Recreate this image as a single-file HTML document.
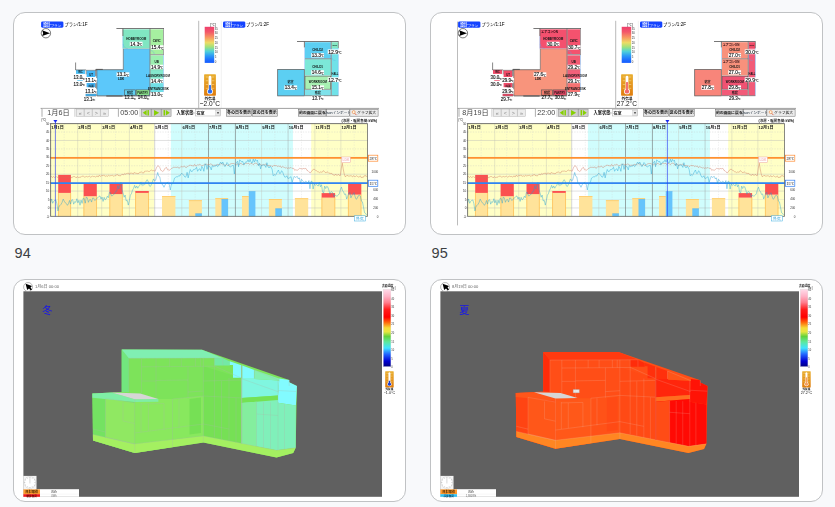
<!DOCTYPE html>
<html lang="ja">
<head>
<meta charset="utf-8">
<title>温熱シミュレーション 94-95</title>
<style>
html,body{margin:0;padding:0}
body{width:835px;height:507px;overflow:hidden;position:relative;background:#f8f9fb;font-family:"Liberation Sans","Noto Sans CJK JP",sans-serif;color:#3c4043}
.card{position:absolute;width:393px;height:223px;box-sizing:border-box;border:1px solid #c0c2c4;border-radius:12px;background:#fff;overflow:hidden}
.card svg{position:absolute;left:-1px;top:-1px;width:393px;height:223px;display:block;font-family:"Liberation Sans","Noto Sans CJK JP",sans-serif;will-change:transform}
.cap{position:absolute;margin:0;font-size:14.5px;line-height:16px;font-weight:400;color:#3c4043;letter-spacing:0}
</style>
</head>
<body>
<div class="card" style="left:13px;top:12px"><svg viewBox="13 12 393 223" width="393" height="223" role="img" aria-label="冬の室温シミュレーション"><rect x="41.1" y="21.4" width="22.3" height="6.3" fill="#1443ff" rx="1.4"/><text transform="translate(43.3 26.4) scale(0.78 1)" font-size="4.7" fill="#fff" font-weight="bold">設計</text><text transform="translate(50.4 26.6) scale(1.22 1)" font-size="3" fill="#fff">プラン</text><text x="64.6" y="26.3" font-size="4.2" fill="#000">プラン<tspan font-size="4.6">/1:1F</tspan></text><circle cx="45.9" cy="33.2" r="4.7" fill="#fff" stroke="#111" stroke-width="0.55"/><polygon points="42.14,30.29 50.04,33.2 42.14,36.11 43.17,33.2" fill="#000"/><rect x="122.8" y="29.3" width="27" height="19.3" fill="#80e6c2"/><rect x="150.3" y="29.3" width="12.9" height="24.9" fill="#a6f0a0"/><polygon points="123.4,49 149.8,49 149.8,95.8 96.8,95.8 96.8,69.7 123.4,69.7" fill="#5cc8fa"/><rect x="150.3" y="55.4" width="12.9" height="14.3" fill="#9cf0b0"/><rect x="150.3" y="69.7" width="12.9" height="13.4" fill="#84e8cc"/><rect x="150.3" y="83.1" width="12.9" height="8.9" fill="#72e0e6"/><rect x="124.4" y="89.9" width="11.1" height="5.3" fill="#62d2f2" stroke="#555" stroke-width="0.6"/><rect x="136.2" y="89.9" width="13" height="5.3" fill="#90ee92" stroke="#555" stroke-width="0.6"/><rect x="76" y="69.9" width="9" height="4" fill="#4fc0f4"/><rect x="86.6" y="70.4" width="8.7" height="6.6" fill="#42b8f8"/><rect x="86.6" y="83" width="8.7" height="4.2" fill="#42b4f6"/><rect x="77.2" y="80.3" width="5.6" height="0.7" fill="#4fc0f4"/><rect x="85.6" y="93.9" width="10.4" height="2.1" fill="#42b8f8"/><line x1="85.6" y1="93.9" x2="96" y2="93.9" stroke="#555" stroke-width="0.45"/><line x1="85.6" y1="96.1" x2="96" y2="96.1" stroke="#555" stroke-width="0.45"/><line x1="116.4" y1="28.5" x2="164" y2="28.5" stroke="#555" stroke-width="0.8"/><line x1="122.9" y1="28.5" x2="122.9" y2="36" stroke="#555" stroke-width="0.8"/><line x1="122.9" y1="36" x2="122.9" y2="48.6" stroke="#5aa8f0" stroke-width="0.5"/><line x1="150" y1="28.5" x2="150" y2="95.8" stroke="#555" stroke-width="0.7"/><line x1="163.5" y1="28.5" x2="163.5" y2="55" stroke="#555" stroke-width="0.5"/><line x1="163.5" y1="55" x2="163.5" y2="92" stroke="#6ab4f4" stroke-width="0.5"/><line x1="122.9" y1="48.8" x2="150" y2="48.8" stroke="#889" stroke-width="0.4"/><line x1="150.3" y1="54.7" x2="163.4" y2="54.7" stroke="#555" stroke-width="0.6"/><line x1="150.3" y1="69.7" x2="163.4" y2="69.7" stroke="#7a8" stroke-width="0.3"/><line x1="123.3" y1="49" x2="123.3" y2="69.7" stroke="#555" stroke-width="0.6"/><line x1="96.8" y1="69.7" x2="123.3" y2="69.7" stroke="#555" stroke-width="0.7"/><line x1="96.8" y1="69.7" x2="96.8" y2="96" stroke="#555" stroke-width="0.7"/><line x1="96.8" y1="95.9" x2="150" y2="95.9" stroke="#555" stroke-width="0.8"/><line x1="75.6" y1="62.5" x2="75.6" y2="70" stroke="#555" stroke-width="0.7"/><line x1="75.6" y1="69.9" x2="86" y2="69.9" stroke="#555" stroke-width="0.6"/><line x1="86.4" y1="70.3" x2="96.8" y2="70.3" stroke="#555" stroke-width="0.5"/><line x1="95.8" y1="69.4" x2="95.8" y2="76.2" stroke="#555" stroke-width="0.8"/><line x1="95.8" y1="83.3" x2="95.8" y2="88" stroke="#555" stroke-width="0.8"/><line x1="86.2" y1="69.9" x2="86.2" y2="74.4" stroke="#555" stroke-width="0.6"/><line x1="95.8" y1="69.4" x2="102.8" y2="69.4" stroke="#555" stroke-width="1"/><line x1="106.3" y1="96" x2="122.6" y2="96" stroke="#555" stroke-width="1.1"/><path d="M123.2 44 A4.6 4.6 0 0 0 127.8 48.6" fill="none" stroke="#5aa8f0" stroke-width="0.35"/><path d="M150.6 50.5 A3.6 3.6 0 0 1 154.2 54.4" fill="none" stroke="#5aa8f0" stroke-width="0.35"/><text x="136.3" y="39.7" font-size="3" fill="#101414" text-anchor="middle" font-weight="bold">HOBBYROOM</text><rect x="129.77" y="41.74" width="12.76" height="4.32" fill="#fff"/><text x="130.17" y="45.59" font-size="4.7" fill="#111" stroke="#111" stroke-width="0.12">14.3<tspan font-size="2.91" dy="0.47">℃</tspan></text><text x="156.7" y="42" font-size="3" fill="#101414" text-anchor="middle" font-weight="bold">CWIC</text><rect x="150.87" y="45.24" width="12.76" height="4.32" fill="#fff"/><text x="151.27" y="49.09" font-size="4.7" fill="#111" stroke="#111" stroke-width="0.12">15.4<tspan font-size="2.91" dy="0.47">℃</tspan></text><rect x="116.57" y="72.34" width="12.76" height="4.32" fill="#fff"/><text x="116.97" y="76.19" font-size="4.7" fill="#111" stroke="#111" stroke-width="0.12">13.1<tspan font-size="2.91" dy="0.47">℃</tspan></text><text x="121.2" y="80.3" font-size="3" fill="#101414" text-anchor="middle" font-weight="bold">LDK</text><text x="156.7" y="62.8" font-size="3" fill="#101414" text-anchor="middle" font-weight="bold">UB</text><rect x="150.57" y="64.74" width="12.76" height="4.32" fill="#fff"/><text x="150.97" y="68.59" font-size="4.7" fill="#111" stroke="#111" stroke-width="0.12">14.9<tspan font-size="2.91" dy="0.47">℃</tspan></text><text x="158" y="77" font-size="3" fill="#101414" text-anchor="middle" font-weight="bold">LAUNDRYROOM</text><rect x="150.57" y="78.74" width="12.76" height="4.32" fill="#fff"/><text x="150.97" y="82.59" font-size="4.7" fill="#111" stroke="#111" stroke-width="0.12">14.4<tspan font-size="2.91" dy="0.47">℃</tspan></text><text x="158.5" y="89.8" font-size="2.9" fill="#101414" text-anchor="middle" font-weight="bold">ENTRANCE/SK</text><rect x="150.57" y="92.64" width="12.76" height="4.32" fill="#fff"/><text x="150.97" y="96.49" font-size="4.7" fill="#111" stroke="#111" stroke-width="0.12">13.0<tspan font-size="2.91" dy="0.47">℃</tspan></text><text x="130" y="93.8" font-size="3" fill="#101414" text-anchor="middle" font-weight="bold">階段</text><text x="142.7" y="93.7" font-size="2.7" fill="#101414" text-anchor="middle" font-weight="bold">PANTRY</text><text x="124.43" y="99.22" font-size="4.5" fill="#111" stroke="#111" stroke-width="0.12">13.1<tspan font-size="2.79" dy="0.45">℃</tspan></text><text x="137.63" y="99.22" font-size="4.5" fill="#111" stroke="#111" stroke-width="0.12">14.0<tspan font-size="2.79" dy="0.45">℃</tspan></text><text x="80.5" y="73.2" font-size="2.8" fill="#101414" text-anchor="middle" font-weight="bold">WC</text><text x="73.53" y="79.22" font-size="4.5" fill="#111" stroke="#111" stroke-width="0.12">13.0<tspan font-size="2.79" dy="0.45">℃</tspan></text><text x="73.53" y="85.92" font-size="4.5" fill="#111" stroke="#111" stroke-width="0.12">13.0<tspan font-size="2.79" dy="0.45">℃</tspan></text><text x="91" y="76" font-size="2.8" fill="#101414" text-anchor="middle" font-weight="bold">UT</text><rect x="84.83" y="78.13" width="12.25" height="4.14" fill="#fff"/><text x="85.23" y="81.82" font-size="4.5" fill="#111" stroke="#111" stroke-width="0.12">13.1<tspan font-size="2.79" dy="0.45">℃</tspan></text><text x="91" y="86.5" font-size="2.8" fill="#101414" text-anchor="middle" font-weight="bold">洗面</text><rect x="84.83" y="89.33" width="12.25" height="4.14" fill="#fff"/><text x="85.23" y="93.02" font-size="4.5" fill="#111" stroke="#111" stroke-width="0.12">13.1<tspan font-size="2.79" dy="0.45">℃</tspan></text><text x="83.83" y="101.02" font-size="4.5" fill="#111" stroke="#111" stroke-width="0.12">13.1<tspan font-size="2.79" dy="0.45">℃</tspan></text><line x1="198.7" y1="20.8" x2="198.7" y2="108.2" stroke="#8c8c8c" stroke-width="0.6"/><line x1="221.3" y1="20.8" x2="221.3" y2="108.2" stroke="#dcdcdc" stroke-width="0.4"/><text x="213" y="25.6" font-size="3.6" fill="#222" text-anchor="middle">[℃]</text><defs><linearGradient id="gA" x1="0" y1="0" x2="0" y2="1"><stop offset="0" stop-color="#ee3f6c"/><stop offset="0.14" stop-color="#f3566a"/><stop offset="0.3" stop-color="#f79a62"/><stop offset="0.44" stop-color="#eddc64"/><stop offset="0.56" stop-color="#9fe27c"/><stop offset="0.68" stop-color="#4fd2d8"/><stop offset="0.8" stop-color="#2d9cf6"/><stop offset="0.92" stop-color="#1d6cff"/><stop offset="1" stop-color="#155cff"/></linearGradient></defs><rect x="204.7" y="26.8" width="9.5" height="36.1" fill="url(#gA)"/><text x="214.7" y="29.6" font-size="2.8" fill="#333">35</text><text x="214.7" y="34.35" font-size="2.8" fill="#333">30</text><text x="214.7" y="39.1" font-size="2.8" fill="#333">25</text><text x="214.7" y="43.85" font-size="2.8" fill="#333">20</text><text x="214.7" y="48.6" font-size="2.8" fill="#333">15</text><text x="214.7" y="53.35" font-size="2.8" fill="#333">10</text><text x="214.7" y="58.1" font-size="2.8" fill="#333">5</text><text x="214.7" y="62.85" font-size="2.8" fill="#333">0</text><defs><linearGradient id="gAt" x1="0" y1="0" x2="0" y2="1"><stop offset="0" stop-color="#e9ae2e"/><stop offset="1" stop-color="#df7d0e"/></linearGradient></defs><rect x="204.1" y="74.2" width="11.8" height="21.5" fill="url(#gAt)" rx="0.71"/><line x1="205.75" y1="77" x2="208.11" y2="77" stroke="#f8dc98" stroke-width="0.59"/><line x1="211.89" y1="77" x2="214.25" y2="77" stroke="#f8dc98" stroke-width="0.59"/><line x1="205.75" y1="80.76" x2="208.11" y2="80.76" stroke="#f8dc98" stroke-width="0.59"/><line x1="211.89" y1="80.76" x2="214.25" y2="80.76" stroke="#f8dc98" stroke-width="0.59"/><line x1="205.75" y1="84.52" x2="208.11" y2="84.52" stroke="#f8dc98" stroke-width="0.59"/><line x1="211.89" y1="84.52" x2="214.25" y2="84.52" stroke="#f8dc98" stroke-width="0.59"/><line x1="205.75" y1="88.28" x2="208.11" y2="88.28" stroke="#f8dc98" stroke-width="0.59"/><line x1="211.89" y1="88.28" x2="214.25" y2="88.28" stroke="#f8dc98" stroke-width="0.59"/><rect x="208.58" y="75.7" width="2.83" height="15.7" rx="1.42" fill="#fff"/><circle cx="210" cy="91.4" r="2.95" fill="#fff"/><circle cx="210" cy="91.4" r="2.18" fill="#2c6cf0"/><rect x="209.07" y="85.08" width="1.87" height="6.32" fill="#2c6cf0"/><text x="210" y="99.5" font-size="3.7" fill="#111" text-anchor="middle" font-weight="bold">外気温</text><text transform="translate(209.9 106.4) scale(0.84 1)" font-size="7.8" fill="#111" text-anchor="middle">−2.0°C</text><rect x="223" y="21.4" width="22.3" height="6.3" fill="#1443ff" rx="1.4"/><text transform="translate(225.2 26.4) scale(0.78 1)" font-size="4.7" fill="#fff" font-weight="bold">設計</text><text transform="translate(232.3 26.6) scale(1.22 1)" font-size="3" fill="#fff">プラン</text><text x="246" y="26.3" font-size="4.2" fill="#000">プラン<tspan font-size="4.6">/1:2F</tspan></text><rect x="305" y="42.2" width="25.8" height="16.3" fill="#5ccff2"/><rect x="331.7" y="42.2" width="6.5" height="6" fill="#84e8c4"/><rect x="331.7" y="48.2" width="6.5" height="47.4" fill="#70e2e8"/><rect x="305" y="59.2" width="25.8" height="16.3" fill="#7ce8d8"/><rect x="305" y="76.1" width="25.8" height="13.1" fill="#a8f0b2" stroke="#555" stroke-width="0.6"/><rect x="305" y="89.9" width="25.8" height="5.7" fill="#7ee2ea"/><rect x="277.7" y="69.5" width="26.6" height="26.4" fill="#5ccff2" stroke="#555" stroke-width="0.7"/><line x1="297" y1="41.5" x2="338.5" y2="41.5" stroke="#555" stroke-width="0.8"/><line x1="304.4" y1="41.5" x2="304.4" y2="47.5" stroke="#555" stroke-width="0.8"/><line x1="304.5" y1="47.5" x2="304.5" y2="69.5" stroke="#5aa8f0" stroke-width="0.4"/><line x1="338.4" y1="41.5" x2="338.4" y2="48" stroke="#555" stroke-width="0.6"/><line x1="338.4" y1="48" x2="338.4" y2="95.6" stroke="#6ab4f4" stroke-width="0.5"/><line x1="331.2" y1="41.5" x2="331.2" y2="95.6" stroke="#555" stroke-width="0.7"/><line x1="305" y1="58.8" x2="331.2" y2="58.8" stroke="#555" stroke-width="0.6"/><line x1="305" y1="95.7" x2="338.4" y2="95.7" stroke="#555" stroke-width="0.6"/><path d="M331.4 55.0 A4.4 4.4 0 0 0 335.6 60.6" fill="none" stroke="#5aa8f0" stroke-width="0.35"/><text x="317.6" y="51.3" font-size="3" fill="#101414" text-anchor="middle" font-weight="bold">CHILD2</text><rect x="311.27" y="53.14" width="12.76" height="4.32" fill="#fff"/><text x="311.67" y="56.99" font-size="4.7" fill="#111" stroke="#111" stroke-width="0.12">13.3<tspan font-size="2.91" dy="0.47">℃</tspan></text><text x="334.9" y="46.3" font-size="2.4" fill="#101414" text-anchor="middle" font-weight="bold">WIC</text><rect x="327.73" y="49.41" width="14.04" height="4.78" fill="#fff"/><text x="328.13" y="53.67" font-size="5.2" fill="#111" stroke="#111" stroke-width="0.12">12.9<tspan font-size="3.22" dy="0.52">℃</tspan></text><text x="317.6" y="68.4" font-size="3" fill="#101414" text-anchor="middle" font-weight="bold">CHILD1</text><rect x="311.27" y="70.24" width="12.76" height="4.32" fill="#fff"/><text x="311.67" y="74.09" font-size="4.7" fill="#111" stroke="#111" stroke-width="0.12">14.6<tspan font-size="2.91" dy="0.47">℃</tspan></text><text x="335" y="74.9" font-size="2.6" fill="#101414" text-anchor="middle" font-weight="bold">HALL</text><rect x="327.73" y="77.31" width="14.04" height="4.78" fill="#fff"/><text x="328.13" y="81.57" font-size="5.2" fill="#111" stroke="#111" stroke-width="0.12">12.7<tspan font-size="3.22" dy="0.52">℃</tspan></text><text x="317.8" y="83.1" font-size="2.9" fill="#101414" text-anchor="middle" font-weight="bold">WORKROOM</text><rect x="311.27" y="85.44" width="12.76" height="4.32" fill="#fff"/><text x="311.67" y="89.29" font-size="4.7" fill="#111" stroke="#111" stroke-width="0.12">15.1<tspan font-size="2.91" dy="0.47">℃</tspan></text><text x="317.8" y="93.6" font-size="3" fill="#101414" text-anchor="middle" font-weight="bold">階段</text><rect x="311.53" y="95.83" width="12.25" height="4.14" fill="#fff"/><text x="311.93" y="99.52" font-size="4.5" fill="#111" stroke="#111" stroke-width="0.12">13.7<tspan font-size="2.79" dy="0.45">℃</tspan></text><text x="290.6" y="83.1" font-size="3" fill="#101414" text-anchor="middle" font-weight="bold">寝室</text><rect x="284.37" y="85.44" width="12.76" height="4.32" fill="#fff"/><text x="284.77" y="89.29" font-size="4.7" fill="#111" stroke="#111" stroke-width="0.12">13.4<tspan font-size="2.91" dy="0.47">℃</tspan></text><line x1="40.6" y1="108.4" x2="379" y2="108.4" stroke="#777" stroke-width="0.7"/><rect x="42" y="108.8" width="32.9" height="8" fill="#fff"/><line x1="42" y1="108.8" x2="42" y2="116.8" stroke="#777" stroke-width="0.6"/><line x1="74.9" y1="108.8" x2="74.9" y2="116.8" stroke="#999" stroke-width="0.5"/><text x="58.4" y="115.4" font-size="7.2" fill="#444" text-anchor="middle">1月6日</text><rect x="76.3" y="109.1" width="7.7" height="7.2" fill="#ececec" stroke="#b4b4b4" stroke-width="0.5"/><text x="80.15" y="114.5" font-size="5.4" fill="#8a8a8a" text-anchor="middle">«</text><rect x="84.4" y="109.1" width="7.7" height="7.2" fill="#ececec" stroke="#b4b4b4" stroke-width="0.5"/><text x="88.25" y="114.5" font-size="5.4" fill="#8a8a8a" text-anchor="middle"><</text><rect x="92.5" y="109.1" width="7.7" height="7.2" fill="#ececec" stroke="#b4b4b4" stroke-width="0.5"/><text x="96.35" y="114.5" font-size="5.4" fill="#8a8a8a" text-anchor="middle">></text><rect x="100.6" y="109.1" width="7.7" height="7.2" fill="#ececec" stroke="#b4b4b4" stroke-width="0.5"/><text x="104.45" y="114.5" font-size="5.4" fill="#8a8a8a" text-anchor="middle">»</text><rect x="118.4" y="108.8" width="21.6" height="8" fill="#fff"/><line x1="118.4" y1="108.8" x2="118.4" y2="116.8" stroke="#777" stroke-width="0.6"/><line x1="140" y1="108.8" x2="140" y2="116.8" stroke="#999" stroke-width="0.5"/><text x="129.3" y="115.4" font-size="7.2" fill="#444" text-anchor="middle">05:00</text><rect x="141.4" y="109.1" width="9.7" height="7.4" fill="#cfcfcf" stroke="#868686" stroke-width="0.5"/><polygon points="146.65,110.1 146.65,115.5 142.75,112.8" fill="#86d000"/><rect x="147.45" y="110.1" width="1.5" height="5.4" fill="#86d000"/><rect x="151.4" y="109.1" width="9.7" height="7.4" fill="#cfcfcf" stroke="#868686" stroke-width="0.5"/><polygon points="154.05,109.9 154.05,115.7 159.15,112.8" fill="#86d000"/><rect x="161.4" y="109.1" width="9.7" height="7.4" fill="#cfcfcf" stroke="#868686" stroke-width="0.5"/><rect x="163.55" y="110.1" width="1.5" height="5.4" fill="#86d000"/><polygon points="165.85,110.1 165.85,115.5 169.75,112.8" fill="#86d000"/><text x="176.6" y="114" font-size="4.2" fill="#111" font-weight="bold">入室状態:</text><rect x="195.2" y="109.6" width="25.3" height="6.4" fill="#fff" stroke="#999" stroke-width="0.4"/><text x="196.6" y="114.5" font-size="4" fill="#111" font-weight="bold">在室</text><rect x="215.8" y="110.1" width="4.3" height="5.5" fill="#e8e8e8" stroke="#aaa" stroke-width="0.3"/><polygon points="216.9,112.2 219.1,112.2 218,113.9" fill="#222"/><rect x="226.4" y="109.4" width="25.3" height="6.8" fill="#e4e4e4" stroke="#6a6a6a" stroke-width="0.5"/><text x="239.05" y="114.24" font-size="4" fill="#111" text-anchor="middle" font-weight="bold">冬の日を表示</text><rect x="252.2" y="109.4" width="25.1" height="6.8" fill="#e4e4e4" stroke="#6a6a6a" stroke-width="0.5"/><text x="264.75" y="114.24" font-size="4" fill="#111" text-anchor="middle" font-weight="bold">夏の日を表示</text><rect x="298.4" y="109.4" width="27.6" height="6.8" fill="#dcdcdc" stroke="#6a6a6a" stroke-width="0.5"/><text x="312.2" y="114.17" font-size="3.8" fill="#111" text-anchor="middle" font-weight="bold">前の画面に戻る</text><rect x="326.5" y="109.4" width="22.9" height="6.8" fill="#f0f0f0" stroke="#6a6a6a" stroke-width="0.5"/><text x="337.95" y="114.13" font-size="3.7" fill="#123" text-anchor="middle" font-weight="normal">Jsonインポート</text><rect x="349.9" y="109.4" width="28.2" height="6.8" fill="#ececec" stroke="#6a6a6a" stroke-width="0.5"/><text x="366.6" y="114.17" font-size="3.8" fill="#111" text-anchor="middle" font-weight="normal">グラフ拡大</text><circle cx="353.7" cy="112.1" r="1.5" fill="#fff6e0" stroke="#e8752a" stroke-width="0.55"/><line x1="354.8" y1="113.3" x2="356.4" y2="115.1" stroke="#d84a2a" stroke-width="0.8"/><rect x="50.6" y="123.6" width="316.9" height="92.8" fill="#fff"/><rect x="50.6" y="123.6" width="103.6" height="92.8" fill="#ffffc6"/><rect x="170.9" y="123.6" width="122" height="92.8" fill="#d0fdfd"/><rect x="311.2" y="123.6" width="56.3" height="92.8" fill="#ffffc6"/><line x1="50.6" y1="216.4" x2="367.5" y2="216.4" stroke="#c8c8c8" stroke-width="0.3"/><line x1="50.6" y1="207.96" x2="367.5" y2="207.96" stroke="#b4b4b4" stroke-width="0.4"/><line x1="50.6" y1="199.53" x2="367.5" y2="199.53" stroke="#c8c8c8" stroke-width="0.3"/><line x1="50.6" y1="191.09" x2="367.5" y2="191.09" stroke="#b4b4b4" stroke-width="0.4"/><line x1="50.6" y1="182.65" x2="367.5" y2="182.65" stroke="#c8c8c8" stroke-width="0.3"/><line x1="50.6" y1="174.22" x2="367.5" y2="174.22" stroke="#b4b4b4" stroke-width="0.4"/><line x1="50.6" y1="165.78" x2="367.5" y2="165.78" stroke="#c4c4c4" stroke-width="0.35" stroke-dasharray="1.4 1.2"/><line x1="50.6" y1="157.35" x2="367.5" y2="157.35" stroke="#b4b4b4" stroke-width="0.4"/><line x1="50.6" y1="148.91" x2="367.5" y2="148.91" stroke="#c4c4c4" stroke-width="0.35" stroke-dasharray="1.4 1.2"/><line x1="50.6" y1="140.47" x2="367.5" y2="140.47" stroke="#b4b4b4" stroke-width="0.4"/><line x1="50.6" y1="132.04" x2="367.5" y2="132.04" stroke="#c4c4c4" stroke-width="0.35" stroke-dasharray="1.4 1.2"/><line x1="50.6" y1="123.6" x2="367.5" y2="123.6" stroke="#c8c8c8" stroke-width="0.3"/><line x1="77.7" y1="123.6" x2="77.7" y2="216.4" stroke="#c2c2b6" stroke-width="0.4"/><line x1="64.15" y1="123.6" x2="64.15" y2="216.4" stroke="#cfcfcf" stroke-width="0.3" stroke-dasharray="1.4 1.2"/><line x1="101.7" y1="123.6" x2="101.7" y2="216.4" stroke="#c2c2b6" stroke-width="0.4"/><line x1="89.7" y1="123.6" x2="89.7" y2="216.4" stroke="#cfcfcf" stroke-width="0.3" stroke-dasharray="1.4 1.2"/><line x1="129.4" y1="123.6" x2="129.4" y2="216.4" stroke="#c2c2b6" stroke-width="0.4"/><line x1="115.55" y1="123.6" x2="115.55" y2="216.4" stroke="#cfcfcf" stroke-width="0.3" stroke-dasharray="1.4 1.2"/><line x1="154.7" y1="123.6" x2="154.7" y2="216.4" stroke="#9a9a9a" stroke-width="0.4"/><line x1="142.05" y1="123.6" x2="142.05" y2="216.4" stroke="#cfcfcf" stroke-width="0.3" stroke-dasharray="1.4 1.2"/><line x1="181.8" y1="123.6" x2="181.8" y2="216.4" stroke="#c2c2b6" stroke-width="0.4"/><line x1="168.25" y1="123.6" x2="168.25" y2="216.4" stroke="#cfcfcf" stroke-width="0.3" stroke-dasharray="1.4 1.2"/><line x1="208.5" y1="123.6" x2="208.5" y2="216.4" stroke="#6c6c6c" stroke-width="0.6"/><line x1="195.15" y1="123.6" x2="195.15" y2="216.4" stroke="#cfcfcf" stroke-width="0.3" stroke-dasharray="1.4 1.2"/><line x1="235.4" y1="123.6" x2="235.4" y2="216.4" stroke="#6c6c6c" stroke-width="0.6"/><line x1="221.95" y1="123.6" x2="221.95" y2="216.4" stroke="#cfcfcf" stroke-width="0.3" stroke-dasharray="1.4 1.2"/><line x1="261.6" y1="123.6" x2="261.6" y2="216.4" stroke="#c2c2b6" stroke-width="0.4"/><line x1="248.5" y1="123.6" x2="248.5" y2="216.4" stroke="#cfcfcf" stroke-width="0.3" stroke-dasharray="1.4 1.2"/><line x1="288.1" y1="123.6" x2="288.1" y2="216.4" stroke="#9a9a9a" stroke-width="0.4"/><line x1="274.85" y1="123.6" x2="274.85" y2="216.4" stroke="#cfcfcf" stroke-width="0.3" stroke-dasharray="1.4 1.2"/><line x1="314.9" y1="123.6" x2="314.9" y2="216.4" stroke="#c2c2b6" stroke-width="0.4"/><line x1="301.5" y1="123.6" x2="301.5" y2="216.4" stroke="#cfcfcf" stroke-width="0.3" stroke-dasharray="1.4 1.2"/><line x1="340.9" y1="123.6" x2="340.9" y2="216.4" stroke="#c2c2b6" stroke-width="0.4"/><line x1="327.9" y1="123.6" x2="327.9" y2="216.4" stroke="#cfcfcf" stroke-width="0.3" stroke-dasharray="1.4 1.2"/><line x1="354.2" y1="123.6" x2="354.2" y2="216.4" stroke="#cfcfcf" stroke-width="0.3" stroke-dasharray="1.4 1.2"/><rect x="58.2" y="192.9" width="12.7" height="23.5" fill="#ffe39a"/><line x1="58.45" y1="192.9" x2="58.45" y2="216.4" stroke="#ffa92a" stroke-width="0.5"/><line x1="70.65" y1="192.9" x2="70.65" y2="216.4" stroke="#ffa92a" stroke-width="0.5"/><rect x="58.2" y="174.9" width="12.7" height="18" fill="#fb5050"/><rect x="83.6" y="196.2" width="13.2" height="20.2" fill="#ffe39a"/><line x1="83.85" y1="196.2" x2="83.85" y2="216.4" stroke="#ffa92a" stroke-width="0.5"/><line x1="96.55" y1="196.2" x2="96.55" y2="216.4" stroke="#ffa92a" stroke-width="0.5"/><rect x="83.6" y="183.8" width="13.2" height="12.4" fill="#fb5050"/><rect x="109.5" y="194.1" width="13.1" height="22.3" fill="#ffe39a"/><line x1="109.75" y1="194.1" x2="109.75" y2="216.4" stroke="#ffa92a" stroke-width="0.5"/><line x1="122.35" y1="194.1" x2="122.35" y2="216.4" stroke="#ffa92a" stroke-width="0.5"/><rect x="109.5" y="183.8" width="13.1" height="10.3" fill="#fb5050"/><rect x="135.3" y="192.9" width="13.5" height="23.5" fill="#ffe39a"/><line x1="135.55" y1="192.9" x2="135.55" y2="216.4" stroke="#ffa92a" stroke-width="0.5"/><line x1="148.55" y1="192.9" x2="148.55" y2="216.4" stroke="#ffa92a" stroke-width="0.5"/><rect x="135.3" y="191" width="13.5" height="1.9" fill="#fb5050"/><rect x="162" y="196.2" width="13.4" height="20.2" fill="#ffe39a"/><rect x="162" y="196.2" width="13.4" height="0.8" fill="#ffc963"/><rect x="188.9" y="200.3" width="13" height="16.1" fill="#ffe39a"/><rect x="188.9" y="200.3" width="13" height="0.8" fill="#ffc963"/><rect x="195.3" y="213.6" width="6.6" height="2.8" fill="#66c4fc"/><rect x="195.3" y="213.6" width="6.6" height="0.5" fill="#58b4ec"/><rect x="215.3" y="198.3" width="12.8" height="18.1" fill="#ffe39a"/><rect x="215.3" y="198.3" width="12.8" height="0.8" fill="#ffc963"/><rect x="221.5" y="199.2" width="6.6" height="17.2" fill="#66c4fc"/><rect x="221.5" y="199.2" width="6.6" height="0.5" fill="#58b4ec"/><rect x="242" y="196.2" width="6.8" height="20.2" fill="#ffe39a"/><rect x="242" y="196.2" width="6.8" height="0.8" fill="#ffc963"/><rect x="248.8" y="191.4" width="6.6" height="25" fill="#66c4fc"/><rect x="248.8" y="191.4" width="6.6" height="0.5" fill="#58b4ec"/><rect x="268.9" y="199.2" width="13" height="17.2" fill="#ffe39a"/><rect x="268.9" y="199.2" width="13" height="0.8" fill="#ffc963"/><rect x="275.3" y="208.6" width="6.6" height="7.8" fill="#66c4fc"/><rect x="275.3" y="208.6" width="6.6" height="0.5" fill="#58b4ec"/><rect x="294.9" y="198.3" width="13.3" height="18.1" fill="#ffe39a"/><rect x="294.9" y="198.3" width="13.3" height="0.8" fill="#ffc963"/><rect x="321.6" y="197.6" width="13.5" height="18.8" fill="#ffe39a"/><line x1="321.85" y1="197.6" x2="321.85" y2="216.4" stroke="#ffa92a" stroke-width="0.5"/><line x1="334.85" y1="197.6" x2="334.85" y2="216.4" stroke="#ffa92a" stroke-width="0.5"/><rect x="321.6" y="193.1" width="13.5" height="4.5" fill="#fb5050"/><rect x="348.1" y="194.6" width="13.2" height="21.8" fill="#ffe39a"/><line x1="348.35" y1="194.6" x2="348.35" y2="216.4" stroke="#ffa92a" stroke-width="0.5"/><line x1="361.05" y1="194.6" x2="361.05" y2="216.4" stroke="#ffa92a" stroke-width="0.5"/><rect x="348.1" y="183.8" width="13.2" height="10.8" fill="#fb5050"/><line x1="50.6" y1="157.9" x2="367.5" y2="157.9" stroke="#ff9130" stroke-width="1.7"/><line x1="50.6" y1="183.1" x2="367.5" y2="183.1" stroke="#2f84f2" stroke-width="1.7"/><polyline points="50.6,176.85 51.55,176.54 52.5,177.58 53.45,176.47 54.4,177.43 55.35,177.13 56.3,176.56 57.25,177.5 58.2,176.6 59.15,177.43 60.1,176.74 61.05,176.76 62,177.41 62.95,178.19 63.9,176.77 64.85,176.95 65.8,177.74 66.75,178.36 67.7,177.6 68.65,177.22 69.6,178.36 70.55,176.48 71.5,178.09 72.45,176.93 73.4,176.62 74.35,176.55 75.3,176.91 76.25,177.91 77.2,176.62 78.15,177.4 79.1,177.5 80.05,176.94 81,177.24 81.95,176.21 82.9,176.15 83.85,176.38 84.8,177.27 85.75,176.71 86.7,176.43 87.65,176.91 88.6,176.59 89.55,176.23 90.5,177.16 91.45,176.91 92.4,175.94 93.35,176.55 94.3,176.39 95.25,177.04 96.2,176.69 97.15,175.75 98.1,177.07 99.05,175.29 100,175.84 100.95,176.47 101.9,175.21 102.85,175.84 103.8,174.89 104.75,176.1 105.7,176.24 106.65,175.81 107.6,176.37 108.55,175.2 109.5,175.92 110.45,175.67 111.4,175.59 112.35,175.29 113.3,176.01 114.25,176.18 115.2,175.19 116.15,175.52 117.1,174.27 118.05,175.5 119,175.34 119.95,175.99 120.9,175.54 121.85,174.35 122.8,174.44 123.75,174.89 124.7,173.48 125.65,174.25 126.6,173.54 127.55,173.33 128.5,173.1 129.45,174.4 130.4,173.01 131.35,173.13 132.3,173.31 133.25,174.15 134.2,172.46 135.15,173.08 136.1,173.16 137.05,173.7 138,173.45 138.95,173.41 139.9,172.12 140.85,172.27 141.8,172.03 142.75,172.95 143.7,172.98 144.65,171.24 145.6,171.17 146.55,171.15 147.5,171.03 148.45,171.41 149.4,171.48 150.35,170.69 151.3,170.04 152.25,170.73 153.2,170.5 154.15,170.75 155.1,171.21 156.05,168.78 157,166.53 157.95,165.6 158.9,166.2 159.85,167.68 160.8,170.33 161.75,170.73 162.7,171.55 163.65,170.84 164.6,168.92 165.55,167.82 166.5,167.37 167.45,169.7 168.4,169.82 169.35,170.28 170.3,169.62 171.25,168.57 172.2,168.16 173.15,167.46 174.1,167.24 175.05,167.42 176,167.2 176.95,167.61 177.9,166.81 178.85,168.39 179.8,167.75 180.75,166.68 181.7,166.75 182.65,166.8 183.6,166.69 184.55,166.06 185.5,167.37 186.45,167.52 187.4,166.32 188.35,166.22 189.3,165.28 190.25,165.18 191.2,165.57 192.15,165.31 193.1,166.35 194.05,164.92 195,164.55 195.95,166.31 196.9,165.37 197.85,164.51 198.8,165.21 199.75,164.08 200.7,165.01 201.65,165.84 202.6,165.54 203.55,165.14 204.5,164.21 205.45,164.35 206.4,163.89 207.35,165.03 208.3,164.48 209.25,164.91 210.2,163.97 211.15,163.8 212.1,165.03 213.05,165.42 214,165.21 214.95,165.16 215.9,165.23 216.85,165.12 217.8,164.14 218.75,164.77 219.7,164.5 220.65,163.82 221.6,163.77 222.55,164.22 223.5,164.13 224.45,164.95 225.4,165.43 226.35,164.36 227.3,165.28 228.25,165.34 229.2,165.22 230.15,163.99 231.1,163.65 232.05,163.61 233,163.5 233.95,163.46 234.9,164.25 235.85,164.77 236.8,164.61 237.75,163.85 238.7,164.16 239.65,164.41 240.6,162.95 241.55,164.06 242.5,164.52 243.45,164.23 244.4,164.12 245.35,163.54 246.3,162.91 247.25,164.09 248.2,163.14 249.15,164.04 250.1,164.35 251.05,163.29 252,163.38 252.95,164.56 253.9,164.2 254.85,163.18 255.8,163.18 256.75,163.31 257.7,164.9 258.65,164.79 259.6,163.56 260.55,165.02 261.5,165.43 262.45,164.89 263.4,164.39 264.35,164.89 265.3,164.16 266.25,164.04 267.2,166.06 268.15,165.52 269.1,165.38 270.05,166.31 271,165.41 271.95,166.4 272.9,166.41 273.85,165.29 274.8,165.48 275.75,165.68 276.7,165.7 277.65,166.52 278.6,165.99 279.55,166.43 280.5,165.98 281.45,167.66 282.4,166.67 283.35,167 284.3,167.38 285.25,168.15 286.2,167.35 287.15,168.5 288.1,167.83 289.05,168.06 290,168.2 290.95,167.36 291.9,168.36 292.85,168.29 293.8,168.41 294.75,170.47 295.7,169.69 296.65,170.12 297.6,170.15 298.55,169.34 299.5,168.4 300.45,168.57 301.4,168.73 302.35,169.26 303.3,167.99 304.25,168.97 305.2,168.43 306.15,168.69 307.1,170.51 308.05,170.81 309,171.75 309.95,172.98 310.9,172.49 311.85,170.68 312.8,170.14 313.75,169.04 314.7,169.38 315.65,170.51 316.6,170.78 317.55,171.71 318.5,171.87 319.45,172.64 320.4,172 321.35,172.19 322.3,172.17 323.25,170.64 324.2,171.22 325.15,172.46 326.1,172.73 327.05,171.8 328,172.24 328.95,173.36 329.9,173.1 330.85,173.59 331.8,173.37 332.75,174.68 333.7,175.03 334.65,175.38 335.6,174.01 336.55,175.25 337.5,175.26 338.45,174.21 339.4,175.53 340.35,175.54 341.3,168.05 342.25,163.16 343.2,168.8 344.15,173.72 345.1,176.57 346.05,176.39 347,175.19 347.95,175.86 348.9,176.17 349.85,175.96 350.8,175.74 351.75,176.05 352.7,176.91 353.65,175.57 354.6,176.7 355.55,176.53 356.5,175.74 357.45,176.43 358.4,177.03 359.35,176.77 360.3,175.83 361.25,177.63 362.2,177.2 363.15,177.52 364.1,175.75 365.05,176.03 366,175.54 366.95,176.97" fill="none" stroke="#cc7258" stroke-width="0.42" stroke-linejoin="round"/><polyline points="50.6,202.77 51.65,198.94 52.7,203.24 53.75,201.24 54.8,200.22 55.85,200.03 56.9,203.69 57.95,210.93 59,206.23 60.05,205.53 61.1,204.24 62.15,202.29 63.2,199.05 64.25,201.18 65.3,202.83 66.35,203.53 67.4,205.34 68.45,203.8 69.5,200.49 70.55,204.12 71.6,200.04 72.65,199.66 73.7,204.19 74.75,201.54 75.8,202.37 76.85,198.75 77.9,202.87 78.95,200.28 80,205.23 81.05,200.12 82.1,203.38 83.15,198.3 84.2,198.55 85.25,203.19 86.3,196.94 87.35,198.03 88.4,202.3 89.45,199.73 90.5,199.41 91.55,202.08 92.6,198.04 93.65,198.16 94.7,200.43 95.75,199.84 96.8,198.32 97.85,197.78 98.9,196.44 99.95,195.95 101,199.09 102.05,197.07 103.1,201.43 104.15,197.36 105.2,199.91 106.25,198.91 107.3,196.2 108.35,197.64 109.4,192.34 110.45,192.58 111.5,195.96 112.55,195.69 113.6,194.33 114.65,193.88 115.7,191.35 116.75,191.13 117.8,185.58 118.85,188.94 119.9,184.75 120.95,182.29 122,189.88 123.05,192.88 124.1,197.26 125.15,195.06 126.2,200.95 127.25,200.29 128.3,205.11 129.35,200.5 130.4,195.16 131.45,193.61 132.5,190.14 133.55,188.31 134.6,185.36 135.65,188.13 136.7,185.94 137.75,188.21 138.8,186.4 139.85,185.28 140.9,181.95 141.95,185.41 143,184.6 144.05,185.15 145.1,184.1 146.15,181.16 147.2,179.68 148.25,181.66 149.3,185.85 150.35,186.5 151.4,184.53 152.45,181.71 153.5,178.91 154.55,180.92 155.6,180.28 156.65,176.4 157.7,172.47 158.75,176.24 159.8,176.85 160.85,182.73 161.9,184.37 162.95,184.96 164,187.28 165.05,184.84 166.1,183.75 167.15,182.39 168.2,182.89 169.25,184.53 170.3,189.98 171.35,184.11 172.4,183.91 173.45,182.05 174.5,178.13 175.55,177.35 176.6,176.75 177.65,176.94 178.7,175.7 179.75,176.07 180.8,174.19 181.85,173.2 182.9,174.42 183.95,175.68 185,177.23 186.05,176.56 187.1,172.34 188.15,177.91 189.2,173.24 190.25,169.51 191.3,171.5 192.35,171.39 193.4,169.57 194.45,169.49 195.5,169.03 196.55,167.29 197.6,171.29 198.65,169.47 199.7,168.75 200.75,170.88 201.8,166.44 202.85,167.95 203.9,171.34 204.95,164.14 206,164.33 207.05,169.41 208.1,165.35 209.15,166.59 210.2,166.9 211.25,169.9 212.3,165.52 213.35,166.8 214.4,166.13 215.45,166.22 216.5,164.73 217.55,166.59 218.6,165.72 219.65,163.53 220.7,162.04 221.75,163.92 222.8,162.05 223.85,164.82 224.9,166.61 225.95,164.87 227,162.52 228.05,163.87 229.1,166 230.15,167.01 231.2,166.3 232.25,165.61 233.3,165.19 234.35,173.99 235.4,164.71 236.45,162.54 237.5,161.26 238.55,166.71 239.6,159.96 240.65,160.57 241.7,162.02 242.75,161.38 243.8,164.83 244.85,162.82 245.9,161.98 246.95,161.96 248,159.72 249.05,162.07 250.1,159.34 251.15,162.46 252.2,163.03 253.25,159.09 254.3,162.15 255.35,159.37 256.4,161.24 257.45,160.14 258.5,165.74 259.55,163.44 260.6,168.84 261.65,164.97 262.7,165.28 263.75,165.09 264.8,165.15 265.85,167.39 266.9,162.69 267.95,166.07 269,167.99 270.05,166.34 271.1,167.13 272.15,169.52 273.2,175.79 274.25,174.6 275.3,175.43 276.35,173.97 277.4,171.59 278.45,170.01 279.5,173.39 280.55,173.28 281.6,170.69 282.65,172 283.7,175.01 284.75,177.1 285.8,177.13 286.85,175.74 287.9,178.41 288.95,178.26 290,177.38 291.05,176.65 292.1,182.33 293.15,179.16 294.2,176.29 295.25,177.45 296.3,176.84 297.35,176.5 298.4,179 299.45,177.83 300.5,183.53 301.55,179.31 302.6,181.06 303.65,181.89 304.7,182.38 305.75,181.13 306.8,182.08 307.85,183.07 308.9,180.58 309.95,188.78 311,181.24 312.05,181.44 313.1,189.06 314.15,183.96 315.2,185.47 316.25,184.41 317.3,185.47 318.35,185.95 319.4,182.32 320.45,186.79 321.5,184.72 322.55,191.93 323.6,193.15 324.65,186.08 325.7,188.56 326.75,186.27 327.8,187.09 328.85,190 329.9,194.17 330.95,191.69 332,191.85 333.05,193.25 334.1,196.82 335.15,195.05 336.2,195.98 337.25,195.96 338.3,195.1 339.35,193.72 340.4,189.56 341.45,187.11 342.5,190.51 343.55,191.9 344.6,194.52 345.65,193.93 346.7,198.97 347.75,196.41 348.8,193.09 349.85,192.37 350.9,197.83 351.95,195.61 353,194.06 354.05,192.68 355.1,196.64 356.15,199.25 357.2,198.46 358.25,195.79 359.3,195.31 360.35,196.07 361.4,201.15 362.45,201.81 363.5,207.27 364.55,212.65 365.6,213.47 366.65,214.93" fill="none" stroke="#1f9fd2" stroke-width="0.42" stroke-linejoin="round"/><line x1="50.6" y1="123.6" x2="367.5" y2="123.6" stroke="#555" stroke-width="0.8"/><line x1="50.6" y1="123.2" x2="50.6" y2="216.4" stroke="#555" stroke-width="0.8"/><line x1="367.5" y1="123.6" x2="367.5" y2="216.4" stroke="#555" stroke-width="0.7"/><line x1="50.6" y1="216.4" x2="367.5" y2="216.4" stroke="#555" stroke-width="0.7"/><text x="51.2" y="128.9" font-size="4.1" fill="#111" font-weight="bold">1月1日</text><text x="78.3" y="128.9" font-size="4.1" fill="#111" font-weight="bold">2月1日</text><text x="102.3" y="128.9" font-size="4.1" fill="#111" font-weight="bold">3月1日</text><text x="130" y="128.9" font-size="4.1" fill="#111" font-weight="bold">4月1日</text><text x="155.3" y="128.9" font-size="4.1" fill="#111" font-weight="bold">5月1日</text><text x="182.4" y="128.9" font-size="4.1" fill="#111" font-weight="bold">6月1日</text><text x="209.1" y="128.9" font-size="4.1" fill="#111" font-weight="bold">7月1日</text><text x="236" y="128.9" font-size="4.1" fill="#111" font-weight="bold">8月1日</text><text x="262.2" y="128.9" font-size="4.1" fill="#111" font-weight="bold">9月1日</text><text x="288.7" y="128.9" font-size="4.1" fill="#111" font-weight="bold">10月1日</text><text x="315.5" y="128.9" font-size="4.1" fill="#111" font-weight="bold">11月1日</text><text x="341.5" y="128.9" font-size="4.1" fill="#111" font-weight="bold">12月1日</text><text x="49.3" y="217.5" font-size="3" fill="#333" text-anchor="end">-5</text><line x1="49.6" y1="216.4" x2="50.6" y2="216.4" stroke="#555" stroke-width="0.35"/><text x="49.3" y="209.06" font-size="3" fill="#333" text-anchor="end">0</text><line x1="49.6" y1="207.96" x2="50.6" y2="207.96" stroke="#555" stroke-width="0.35"/><text x="49.3" y="200.63" font-size="3" fill="#333" text-anchor="end">5</text><line x1="49.6" y1="199.53" x2="50.6" y2="199.53" stroke="#555" stroke-width="0.35"/><text x="49.3" y="192.19" font-size="3" fill="#333" text-anchor="end">10</text><line x1="49.6" y1="191.09" x2="50.6" y2="191.09" stroke="#555" stroke-width="0.35"/><text x="49.3" y="183.75" font-size="3" fill="#333" text-anchor="end">15</text><line x1="49.6" y1="182.65" x2="50.6" y2="182.65" stroke="#555" stroke-width="0.35"/><text x="49.3" y="175.32" font-size="3" fill="#333" text-anchor="end">20</text><line x1="49.6" y1="174.22" x2="50.6" y2="174.22" stroke="#555" stroke-width="0.35"/><text x="49.3" y="166.88" font-size="3" fill="#333" text-anchor="end">25</text><line x1="49.6" y1="165.78" x2="50.6" y2="165.78" stroke="#555" stroke-width="0.35"/><text x="49.3" y="158.45" font-size="3" fill="#333" text-anchor="end">30</text><line x1="49.6" y1="157.35" x2="50.6" y2="157.35" stroke="#555" stroke-width="0.35"/><text x="49.3" y="150.01" font-size="3" fill="#333" text-anchor="end">35</text><line x1="49.6" y1="148.91" x2="50.6" y2="148.91" stroke="#555" stroke-width="0.35"/><text x="49.3" y="141.57" font-size="3" fill="#333" text-anchor="end">40</text><line x1="49.6" y1="140.47" x2="50.6" y2="140.47" stroke="#555" stroke-width="0.35"/><text x="49.3" y="133.14" font-size="3" fill="#333" text-anchor="end">45</text><line x1="49.6" y1="132.04" x2="50.6" y2="132.04" stroke="#555" stroke-width="0.35"/><text x="49.3" y="124.7" font-size="3" fill="#333" text-anchor="end">50</text><line x1="49.6" y1="123.6" x2="50.6" y2="123.6" stroke="#555" stroke-width="0.35"/><text x="41.2" y="121.2" font-size="3" fill="#222">(℃)</text><text x="378.3" y="217.6" font-size="3" fill="#333" text-anchor="end">0</text><text x="378.3" y="208.6" font-size="3" fill="#333" text-anchor="end">200</text><text x="378.3" y="199.6" font-size="3" fill="#333" text-anchor="end">400</text><text x="378.3" y="190.6" font-size="3" fill="#333" text-anchor="end">600</text><text x="378.3" y="172.6" font-size="3" fill="#333" text-anchor="end">1000</text><text x="377" y="121.5" font-size="3.5" fill="#111" text-anchor="end" font-weight="bold">(冷房・暖房負荷:kWh)</text><rect x="368.6" y="155.2" width="9.2" height="6" fill="#fff" stroke="#ff8a30" stroke-width="0.7"/><text x="373.2" y="159.6" font-size="3.6" fill="#222" text-anchor="middle">28℃</text><rect x="368.6" y="180.2" width="9.2" height="6.1" fill="#fff" stroke="#2f7df0" stroke-width="0.7"/><text x="373.2" y="184.6" font-size="3.6" fill="#222" text-anchor="middle">15℃</text><rect x="341.6" y="157" width="8.7" height="5.4" fill="#fff" stroke="#f0a6a6" stroke-width="0.5"/><text x="346" y="161.1" font-size="3.6" fill="#ee9c9c" text-anchor="middle">LDK</text><rect x="354.4" y="215.8" width="11" height="5.2" fill="#fff" stroke="#3caee0" stroke-width="0.5"/><text x="359.9" y="220" font-size="3.9" fill="#2aa0d8" text-anchor="middle">外気</text><line x1="55.4" y1="122" x2="55.4" y2="216.4" stroke="#2a3af2" stroke-width="0.65"/><polygon points="53.4,120 57.4,120 55.4,122.9" fill="#1a2cf0"/></svg></div>
<div class="card" style="left:430px;top:12px"><svg viewBox="13 12 393 223" width="393" height="223" role="img" aria-label="夏の室温シミュレーション"><rect x="41.1" y="21.4" width="22.3" height="6.3" fill="#1443ff" rx="1.4"/><text transform="translate(43.3 26.4) scale(0.78 1)" font-size="4.7" fill="#fff" font-weight="bold">設計</text><text transform="translate(50.4 26.6) scale(1.22 1)" font-size="3" fill="#fff">プラン</text><text x="64.6" y="26.3" font-size="4.2" fill="#000">プラン<tspan font-size="4.6">/1:1F</tspan></text><circle cx="45.9" cy="33.2" r="4.7" fill="#fff" stroke="#111" stroke-width="0.55"/><polygon points="42.14,30.29 50.04,33.2 42.14,36.11 43.17,33.2" fill="#000"/><rect x="122.8" y="29.3" width="27" height="19.3" fill="#f4506e"/><rect x="150.3" y="29.3" width="12.9" height="24.9" fill="#f4526e"/><polygon points="123.4,49 149.8,49 149.8,95.8 96.8,95.8 96.8,69.7 123.4,69.7" fill="#f8947c"/><rect x="150.3" y="55.4" width="12.9" height="14.3" fill="#f25a72"/><rect x="150.3" y="69.7" width="12.9" height="13.4" fill="#f2607a"/><rect x="150.3" y="83.1" width="12.9" height="8.9" fill="#f57272"/><rect x="124.4" y="89.9" width="11.1" height="5.3" fill="#f27a6a" stroke="#555" stroke-width="0.6"/><rect x="136.2" y="89.9" width="13" height="5.3" fill="#f04a68" stroke="#555" stroke-width="0.6"/><rect x="76" y="69.9" width="9" height="4" fill="#f04a68"/><rect x="86.6" y="70.4" width="8.7" height="6.6" fill="#f04a68"/><rect x="86.6" y="83" width="8.7" height="4.2" fill="#f04c6a"/><rect x="77.2" y="80.3" width="5.6" height="0.7" fill="#f04a68"/><rect x="85.6" y="93.9" width="10.4" height="2.1" fill="#f04a68"/><line x1="85.6" y1="93.9" x2="96" y2="93.9" stroke="#555" stroke-width="0.45"/><line x1="85.6" y1="96.1" x2="96" y2="96.1" stroke="#555" stroke-width="0.45"/><line x1="116.4" y1="28.5" x2="164" y2="28.5" stroke="#555" stroke-width="0.8"/><line x1="122.9" y1="28.5" x2="122.9" y2="36" stroke="#555" stroke-width="0.8"/><line x1="122.9" y1="36" x2="122.9" y2="48.6" stroke="#5aa8f0" stroke-width="0.5"/><line x1="150" y1="28.5" x2="150" y2="95.8" stroke="#555" stroke-width="0.7"/><line x1="163.5" y1="28.5" x2="163.5" y2="55" stroke="#555" stroke-width="0.5"/><line x1="163.5" y1="55" x2="163.5" y2="92" stroke="#6ab4f4" stroke-width="0.5"/><line x1="122.9" y1="48.8" x2="150" y2="48.8" stroke="#889" stroke-width="0.4"/><line x1="150.3" y1="54.7" x2="163.4" y2="54.7" stroke="#555" stroke-width="0.6"/><line x1="150.3" y1="69.7" x2="163.4" y2="69.7" stroke="#7a8" stroke-width="0.3"/><line x1="123.3" y1="49" x2="123.3" y2="69.7" stroke="#555" stroke-width="0.6"/><line x1="96.8" y1="69.7" x2="123.3" y2="69.7" stroke="#555" stroke-width="0.7"/><line x1="96.8" y1="69.7" x2="96.8" y2="96" stroke="#555" stroke-width="0.7"/><line x1="96.8" y1="95.9" x2="150" y2="95.9" stroke="#555" stroke-width="0.8"/><line x1="75.6" y1="62.5" x2="75.6" y2="70" stroke="#555" stroke-width="0.7"/><line x1="75.6" y1="69.9" x2="86" y2="69.9" stroke="#555" stroke-width="0.6"/><line x1="86.4" y1="70.3" x2="96.8" y2="70.3" stroke="#555" stroke-width="0.5"/><line x1="95.8" y1="69.4" x2="95.8" y2="76.2" stroke="#555" stroke-width="0.8"/><line x1="95.8" y1="83.3" x2="95.8" y2="88" stroke="#555" stroke-width="0.8"/><line x1="86.2" y1="69.9" x2="86.2" y2="74.4" stroke="#555" stroke-width="0.6"/><line x1="95.8" y1="69.4" x2="102.8" y2="69.4" stroke="#555" stroke-width="1"/><line x1="106.3" y1="96" x2="122.6" y2="96" stroke="#555" stroke-width="1.1"/><path d="M123.2 44 A4.6 4.6 0 0 0 127.8 48.6" fill="none" stroke="#5aa8f0" stroke-width="0.35"/><path d="M150.6 50.5 A3.6 3.6 0 0 1 154.2 54.4" fill="none" stroke="#5aa8f0" stroke-width="0.35"/><text x="124.3" y="33.3" font-size="3" fill="#2a0c14" font-weight="bold">エアコンON</text><text x="136.3" y="39.7" font-size="3" fill="#101414" text-anchor="middle" font-weight="bold">HOBBYROOM</text><rect x="129.77" y="41.74" width="12.76" height="4.32" fill="#fff"/><text x="130.17" y="45.59" font-size="4.7" fill="#111" stroke="#111" stroke-width="0.12">30.0<tspan font-size="2.91" dy="0.47">℃</tspan></text><text x="156.7" y="42" font-size="3" fill="#101414" text-anchor="middle" font-weight="bold">CWIC</text><rect x="150.87" y="45.24" width="12.76" height="4.32" fill="#fff"/><text x="151.27" y="49.09" font-size="4.7" fill="#111" stroke="#111" stroke-width="0.12">30.7<tspan font-size="2.91" dy="0.47">℃</tspan></text><rect x="116.57" y="72.34" width="12.76" height="4.32" fill="#fff"/><text x="116.97" y="76.19" font-size="4.7" fill="#111" stroke="#111" stroke-width="0.12">27.6<tspan font-size="2.91" dy="0.47">℃</tspan></text><text x="121.2" y="80.3" font-size="3" fill="#101414" text-anchor="middle" font-weight="bold">LDK</text><text x="156.7" y="62.8" font-size="3" fill="#101414" text-anchor="middle" font-weight="bold">UB</text><rect x="150.57" y="64.74" width="12.76" height="4.32" fill="#fff"/><text x="150.97" y="68.59" font-size="4.7" fill="#111" stroke="#111" stroke-width="0.12">29.2<tspan font-size="2.91" dy="0.47">℃</tspan></text><text x="158" y="77" font-size="3" fill="#101414" text-anchor="middle" font-weight="bold">LAUNDRYROOM</text><rect x="150.57" y="78.74" width="12.76" height="4.32" fill="#fff"/><text x="150.97" y="82.59" font-size="4.7" fill="#111" stroke="#111" stroke-width="0.12">29.1<tspan font-size="2.91" dy="0.47">℃</tspan></text><text x="158.5" y="89.8" font-size="2.9" fill="#101414" text-anchor="middle" font-weight="bold">ENTRANCE/SK</text><rect x="150.57" y="92.64" width="12.76" height="4.32" fill="#fff"/><text x="150.97" y="96.49" font-size="4.7" fill="#111" stroke="#111" stroke-width="0.12">27.9<tspan font-size="2.91" dy="0.47">℃</tspan></text><text x="130" y="93.8" font-size="3" fill="#101414" text-anchor="middle" font-weight="bold">階段</text><text x="142.7" y="93.7" font-size="2.7" fill="#101414" text-anchor="middle" font-weight="bold">PANTRY</text><text x="124.43" y="99.22" font-size="4.5" fill="#111" stroke="#111" stroke-width="0.12">27.7<tspan font-size="2.79" dy="0.45">℃</tspan></text><text x="137.63" y="99.22" font-size="4.5" fill="#111" stroke="#111" stroke-width="0.12">30.0<tspan font-size="2.79" dy="0.45">℃</tspan></text><text x="80.5" y="73.2" font-size="2.8" fill="#101414" text-anchor="middle" font-weight="bold">WC</text><text x="73.53" y="79.22" font-size="4.5" fill="#111" stroke="#111" stroke-width="0.12">30.0<tspan font-size="2.79" dy="0.45">℃</tspan></text><text x="73.53" y="85.92" font-size="4.5" fill="#111" stroke="#111" stroke-width="0.12">30.0<tspan font-size="2.79" dy="0.45">℃</tspan></text><text x="91" y="76" font-size="2.8" fill="#101414" text-anchor="middle" font-weight="bold">UT</text><rect x="84.83" y="78.13" width="12.25" height="4.14" fill="#fff"/><text x="85.23" y="81.82" font-size="4.5" fill="#111" stroke="#111" stroke-width="0.12">29.9<tspan font-size="2.79" dy="0.45">℃</tspan></text><text x="91" y="86.5" font-size="2.8" fill="#101414" text-anchor="middle" font-weight="bold">洗面</text><rect x="84.83" y="89.33" width="12.25" height="4.14" fill="#fff"/><text x="85.23" y="93.02" font-size="4.5" fill="#111" stroke="#111" stroke-width="0.12">29.9<tspan font-size="2.79" dy="0.45">℃</tspan></text><text x="83.83" y="101.02" font-size="4.5" fill="#111" stroke="#111" stroke-width="0.12">29.7<tspan font-size="2.79" dy="0.45">℃</tspan></text><line x1="198.7" y1="20.8" x2="198.7" y2="108.2" stroke="#8c8c8c" stroke-width="0.6"/><line x1="221.3" y1="20.8" x2="221.3" y2="108.2" stroke="#dcdcdc" stroke-width="0.4"/><text x="213" y="25.6" font-size="3.6" fill="#222" text-anchor="middle">[℃]</text><defs><linearGradient id="gB" x1="0" y1="0" x2="0" y2="1"><stop offset="0" stop-color="#ee3f6c"/><stop offset="0.14" stop-color="#f3566a"/><stop offset="0.3" stop-color="#f79a62"/><stop offset="0.44" stop-color="#eddc64"/><stop offset="0.56" stop-color="#9fe27c"/><stop offset="0.68" stop-color="#4fd2d8"/><stop offset="0.8" stop-color="#2d9cf6"/><stop offset="0.92" stop-color="#1d6cff"/><stop offset="1" stop-color="#155cff"/></linearGradient></defs><rect x="204.7" y="26.8" width="9.5" height="36.1" fill="url(#gB)"/><text x="214.7" y="29.6" font-size="2.8" fill="#333">35</text><text x="214.7" y="34.35" font-size="2.8" fill="#333">30</text><text x="214.7" y="39.1" font-size="2.8" fill="#333">25</text><text x="214.7" y="43.85" font-size="2.8" fill="#333">20</text><text x="214.7" y="48.6" font-size="2.8" fill="#333">15</text><text x="214.7" y="53.35" font-size="2.8" fill="#333">10</text><text x="214.7" y="58.1" font-size="2.8" fill="#333">5</text><text x="214.7" y="62.85" font-size="2.8" fill="#333">0</text><defs><linearGradient id="gBt" x1="0" y1="0" x2="0" y2="1"><stop offset="0" stop-color="#e9ae2e"/><stop offset="1" stop-color="#df7d0e"/></linearGradient></defs><rect x="204.1" y="74.2" width="11.8" height="21.5" fill="url(#gBt)" rx="0.71"/><line x1="205.75" y1="77" x2="208.11" y2="77" stroke="#f8dc98" stroke-width="0.59"/><line x1="211.89" y1="77" x2="214.25" y2="77" stroke="#f8dc98" stroke-width="0.59"/><line x1="205.75" y1="80.76" x2="208.11" y2="80.76" stroke="#f8dc98" stroke-width="0.59"/><line x1="211.89" y1="80.76" x2="214.25" y2="80.76" stroke="#f8dc98" stroke-width="0.59"/><line x1="205.75" y1="84.52" x2="208.11" y2="84.52" stroke="#f8dc98" stroke-width="0.59"/><line x1="211.89" y1="84.52" x2="214.25" y2="84.52" stroke="#f8dc98" stroke-width="0.59"/><line x1="205.75" y1="88.28" x2="208.11" y2="88.28" stroke="#f8dc98" stroke-width="0.59"/><line x1="211.89" y1="88.28" x2="214.25" y2="88.28" stroke="#f8dc98" stroke-width="0.59"/><rect x="208.58" y="75.7" width="2.83" height="15.7" rx="1.42" fill="#fff"/><circle cx="210" cy="91.4" r="2.95" fill="#fff"/><circle cx="210" cy="91.4" r="2.18" fill="#f26a6a"/><rect x="209.07" y="82.07" width="1.87" height="9.33" fill="#f26a6a"/><text x="210" y="99.5" font-size="3.7" fill="#111" text-anchor="middle" font-weight="bold">外気温</text><text transform="translate(209.9 106.4) scale(0.84 1)" font-size="7.8" fill="#111" text-anchor="middle">27.2°C</text><rect x="223" y="21.4" width="22.3" height="6.3" fill="#1443ff" rx="1.4"/><text transform="translate(225.2 26.4) scale(0.78 1)" font-size="4.7" fill="#fff" font-weight="bold">設計</text><text transform="translate(232.3 26.6) scale(1.22 1)" font-size="3" fill="#fff">プラン</text><text x="246" y="26.3" font-size="4.2" fill="#000">プラン<tspan font-size="4.6">/1:2F</tspan></text><rect x="305" y="42.2" width="25.8" height="16.3" fill="#f8917c"/><rect x="331.7" y="42.2" width="6.5" height="6" fill="#f04a68"/><rect x="331.7" y="48.2" width="6.5" height="47.4" fill="#f25a78"/><rect x="305" y="59.2" width="25.8" height="16.3" fill="#f8917c"/><rect x="305" y="76.1" width="25.8" height="13.1" fill="#f05272" stroke="#555" stroke-width="0.6"/><rect x="305" y="89.9" width="25.8" height="5.7" fill="#f25a78"/><rect x="277.7" y="69.5" width="26.6" height="26.4" fill="#f8857a" stroke="#555" stroke-width="0.7"/><line x1="297" y1="41.5" x2="338.5" y2="41.5" stroke="#555" stroke-width="0.8"/><line x1="304.4" y1="41.5" x2="304.4" y2="47.5" stroke="#555" stroke-width="0.8"/><line x1="304.5" y1="47.5" x2="304.5" y2="69.5" stroke="#5aa8f0" stroke-width="0.4"/><line x1="338.4" y1="41.5" x2="338.4" y2="48" stroke="#555" stroke-width="0.6"/><line x1="338.4" y1="48" x2="338.4" y2="95.6" stroke="#6ab4f4" stroke-width="0.5"/><line x1="331.2" y1="41.5" x2="331.2" y2="95.6" stroke="#555" stroke-width="0.7"/><line x1="305" y1="58.8" x2="331.2" y2="58.8" stroke="#555" stroke-width="0.6"/><line x1="305" y1="95.7" x2="338.4" y2="95.7" stroke="#555" stroke-width="0.6"/><path d="M331.4 55.0 A4.4 4.4 0 0 0 335.6 60.6" fill="none" stroke="#5aa8f0" stroke-width="0.35"/><text x="305.8" y="46.1" font-size="3" fill="#2a0c14" font-weight="bold">エアコンON</text><text x="305.8" y="62.9" font-size="3" fill="#2a0c14" font-weight="bold">エアコンON</text><text x="317.6" y="51.3" font-size="3" fill="#101414" text-anchor="middle" font-weight="bold">CHILD2</text><rect x="311.27" y="53.14" width="12.76" height="4.32" fill="#fff"/><text x="311.67" y="56.99" font-size="4.7" fill="#111" stroke="#111" stroke-width="0.12">27.0<tspan font-size="2.91" dy="0.47">℃</tspan></text><text x="334.9" y="46.3" font-size="2.4" fill="#101414" text-anchor="middle" font-weight="bold">WIC</text><rect x="327.73" y="49.41" width="14.04" height="4.78" fill="#fff"/><text x="328.13" y="53.67" font-size="5.2" fill="#111" stroke="#111" stroke-width="0.12">30.0<tspan font-size="3.22" dy="0.52">℃</tspan></text><text x="317.6" y="68.4" font-size="3" fill="#101414" text-anchor="middle" font-weight="bold">CHILD1</text><rect x="311.27" y="70.24" width="12.76" height="4.32" fill="#fff"/><text x="311.67" y="74.09" font-size="4.7" fill="#111" stroke="#111" stroke-width="0.12">27.0<tspan font-size="2.91" dy="0.47">℃</tspan></text><text x="335" y="74.9" font-size="2.6" fill="#101414" text-anchor="middle" font-weight="bold">HALL</text><rect x="327.73" y="77.31" width="14.04" height="4.78" fill="#fff"/><text x="328.13" y="81.57" font-size="5.2" fill="#111" stroke="#111" stroke-width="0.12">29.9<tspan font-size="3.22" dy="0.52">℃</tspan></text><text x="317.8" y="83.1" font-size="2.9" fill="#101414" text-anchor="middle" font-weight="bold">WORKROOM</text><rect x="311.27" y="85.44" width="12.76" height="4.32" fill="#fff"/><text x="311.67" y="89.29" font-size="4.7" fill="#111" stroke="#111" stroke-width="0.12">29.8<tspan font-size="2.91" dy="0.47">℃</tspan></text><text x="317.8" y="93.6" font-size="3" fill="#101414" text-anchor="middle" font-weight="bold">階段</text><rect x="311.53" y="95.83" width="12.25" height="4.14" fill="#fff"/><text x="311.93" y="99.52" font-size="4.5" fill="#111" stroke="#111" stroke-width="0.12">29.3<tspan font-size="2.79" dy="0.45">℃</tspan></text><text x="290.6" y="83.1" font-size="3" fill="#101414" text-anchor="middle" font-weight="bold">寝室</text><rect x="284.37" y="85.44" width="12.76" height="4.32" fill="#fff"/><text x="284.77" y="89.29" font-size="4.7" fill="#111" stroke="#111" stroke-width="0.12">27.8<tspan font-size="2.91" dy="0.47">℃</tspan></text><line x1="40.6" y1="108.4" x2="379" y2="108.4" stroke="#777" stroke-width="0.7"/><rect x="42" y="108.8" width="32.9" height="8" fill="#fff"/><line x1="42" y1="108.8" x2="42" y2="116.8" stroke="#777" stroke-width="0.6"/><line x1="74.9" y1="108.8" x2="74.9" y2="116.8" stroke="#999" stroke-width="0.5"/><text x="58.4" y="115.4" font-size="7.2" fill="#444" text-anchor="middle">8月19日</text><rect x="76.3" y="109.1" width="7.7" height="7.2" fill="#ececec" stroke="#b4b4b4" stroke-width="0.5"/><text x="80.15" y="114.5" font-size="5.4" fill="#8a8a8a" text-anchor="middle">«</text><rect x="84.4" y="109.1" width="7.7" height="7.2" fill="#ececec" stroke="#b4b4b4" stroke-width="0.5"/><text x="88.25" y="114.5" font-size="5.4" fill="#8a8a8a" text-anchor="middle"><</text><rect x="92.5" y="109.1" width="7.7" height="7.2" fill="#ececec" stroke="#b4b4b4" stroke-width="0.5"/><text x="96.35" y="114.5" font-size="5.4" fill="#8a8a8a" text-anchor="middle">></text><rect x="100.6" y="109.1" width="7.7" height="7.2" fill="#ececec" stroke="#b4b4b4" stroke-width="0.5"/><text x="104.45" y="114.5" font-size="5.4" fill="#8a8a8a" text-anchor="middle">»</text><rect x="118.4" y="108.8" width="21.6" height="8" fill="#fff"/><line x1="118.4" y1="108.8" x2="118.4" y2="116.8" stroke="#777" stroke-width="0.6"/><line x1="140" y1="108.8" x2="140" y2="116.8" stroke="#999" stroke-width="0.5"/><text x="129.3" y="115.4" font-size="7.2" fill="#444" text-anchor="middle">22:00</text><rect x="141.4" y="109.1" width="9.7" height="7.4" fill="#cfcfcf" stroke="#868686" stroke-width="0.5"/><polygon points="146.65,110.1 146.65,115.5 142.75,112.8" fill="#86d000"/><rect x="147.45" y="110.1" width="1.5" height="5.4" fill="#86d000"/><rect x="151.4" y="109.1" width="9.7" height="7.4" fill="#cfcfcf" stroke="#868686" stroke-width="0.5"/><polygon points="154.05,109.9 154.05,115.7 159.15,112.8" fill="#86d000"/><rect x="161.4" y="109.1" width="9.7" height="7.4" fill="#cfcfcf" stroke="#868686" stroke-width="0.5"/><rect x="163.55" y="110.1" width="1.5" height="5.4" fill="#86d000"/><polygon points="165.85,110.1 165.85,115.5 169.75,112.8" fill="#86d000"/><text x="176.6" y="114" font-size="4.2" fill="#111" font-weight="bold">入室状態:</text><rect x="195.2" y="109.6" width="25.3" height="6.4" fill="#fff" stroke="#999" stroke-width="0.4"/><text x="196.6" y="114.5" font-size="4" fill="#111" font-weight="bold">在室</text><rect x="215.8" y="110.1" width="4.3" height="5.5" fill="#e8e8e8" stroke="#aaa" stroke-width="0.3"/><polygon points="216.9,112.2 219.1,112.2 218,113.9" fill="#222"/><rect x="226.4" y="109.4" width="25.3" height="6.8" fill="#e4e4e4" stroke="#6a6a6a" stroke-width="0.5"/><text x="239.05" y="114.24" font-size="4" fill="#111" text-anchor="middle" font-weight="bold">冬の日を表示</text><rect x="252.2" y="109.4" width="25.1" height="6.8" fill="#e4e4e4" stroke="#6a6a6a" stroke-width="0.5"/><text x="264.75" y="114.24" font-size="4" fill="#111" text-anchor="middle" font-weight="bold">夏の日を表示</text><rect x="298.4" y="109.4" width="27.6" height="6.8" fill="#dcdcdc" stroke="#6a6a6a" stroke-width="0.5"/><text x="312.2" y="114.17" font-size="3.8" fill="#111" text-anchor="middle" font-weight="bold">前の画面に戻る</text><rect x="326.5" y="109.4" width="22.9" height="6.8" fill="#f0f0f0" stroke="#6a6a6a" stroke-width="0.5"/><text x="337.95" y="114.13" font-size="3.7" fill="#123" text-anchor="middle" font-weight="normal">Jsonインポート</text><rect x="349.9" y="109.4" width="28.2" height="6.8" fill="#ececec" stroke="#6a6a6a" stroke-width="0.5"/><text x="366.6" y="114.17" font-size="3.8" fill="#111" text-anchor="middle" font-weight="normal">グラフ拡大</text><circle cx="353.7" cy="112.1" r="1.5" fill="#fff6e0" stroke="#e8752a" stroke-width="0.55"/><line x1="354.8" y1="113.3" x2="356.4" y2="115.1" stroke="#d84a2a" stroke-width="0.8"/><rect x="50.6" y="123.6" width="316.9" height="92.8" fill="#fff"/><rect x="50.6" y="123.6" width="103.6" height="92.8" fill="#ffffc6"/><rect x="170.9" y="123.6" width="122" height="92.8" fill="#d0fdfd"/><rect x="311.2" y="123.6" width="56.3" height="92.8" fill="#ffffc6"/><line x1="50.6" y1="216.4" x2="367.5" y2="216.4" stroke="#c8c8c8" stroke-width="0.3"/><line x1="50.6" y1="207.96" x2="367.5" y2="207.96" stroke="#b4b4b4" stroke-width="0.4"/><line x1="50.6" y1="199.53" x2="367.5" y2="199.53" stroke="#c8c8c8" stroke-width="0.3"/><line x1="50.6" y1="191.09" x2="367.5" y2="191.09" stroke="#b4b4b4" stroke-width="0.4"/><line x1="50.6" y1="182.65" x2="367.5" y2="182.65" stroke="#c8c8c8" stroke-width="0.3"/><line x1="50.6" y1="174.22" x2="367.5" y2="174.22" stroke="#b4b4b4" stroke-width="0.4"/><line x1="50.6" y1="165.78" x2="367.5" y2="165.78" stroke="#c4c4c4" stroke-width="0.35" stroke-dasharray="1.4 1.2"/><line x1="50.6" y1="157.35" x2="367.5" y2="157.35" stroke="#b4b4b4" stroke-width="0.4"/><line x1="50.6" y1="148.91" x2="367.5" y2="148.91" stroke="#c4c4c4" stroke-width="0.35" stroke-dasharray="1.4 1.2"/><line x1="50.6" y1="140.47" x2="367.5" y2="140.47" stroke="#b4b4b4" stroke-width="0.4"/><line x1="50.6" y1="132.04" x2="367.5" y2="132.04" stroke="#c4c4c4" stroke-width="0.35" stroke-dasharray="1.4 1.2"/><line x1="50.6" y1="123.6" x2="367.5" y2="123.6" stroke="#c8c8c8" stroke-width="0.3"/><line x1="77.7" y1="123.6" x2="77.7" y2="216.4" stroke="#c2c2b6" stroke-width="0.4"/><line x1="64.15" y1="123.6" x2="64.15" y2="216.4" stroke="#cfcfcf" stroke-width="0.3" stroke-dasharray="1.4 1.2"/><line x1="101.7" y1="123.6" x2="101.7" y2="216.4" stroke="#c2c2b6" stroke-width="0.4"/><line x1="89.7" y1="123.6" x2="89.7" y2="216.4" stroke="#cfcfcf" stroke-width="0.3" stroke-dasharray="1.4 1.2"/><line x1="129.4" y1="123.6" x2="129.4" y2="216.4" stroke="#c2c2b6" stroke-width="0.4"/><line x1="115.55" y1="123.6" x2="115.55" y2="216.4" stroke="#cfcfcf" stroke-width="0.3" stroke-dasharray="1.4 1.2"/><line x1="154.7" y1="123.6" x2="154.7" y2="216.4" stroke="#9a9a9a" stroke-width="0.4"/><line x1="142.05" y1="123.6" x2="142.05" y2="216.4" stroke="#cfcfcf" stroke-width="0.3" stroke-dasharray="1.4 1.2"/><line x1="181.8" y1="123.6" x2="181.8" y2="216.4" stroke="#c2c2b6" stroke-width="0.4"/><line x1="168.25" y1="123.6" x2="168.25" y2="216.4" stroke="#cfcfcf" stroke-width="0.3" stroke-dasharray="1.4 1.2"/><line x1="208.5" y1="123.6" x2="208.5" y2="216.4" stroke="#6c6c6c" stroke-width="0.6"/><line x1="195.15" y1="123.6" x2="195.15" y2="216.4" stroke="#cfcfcf" stroke-width="0.3" stroke-dasharray="1.4 1.2"/><line x1="235.4" y1="123.6" x2="235.4" y2="216.4" stroke="#6c6c6c" stroke-width="0.6"/><line x1="221.95" y1="123.6" x2="221.95" y2="216.4" stroke="#cfcfcf" stroke-width="0.3" stroke-dasharray="1.4 1.2"/><line x1="261.6" y1="123.6" x2="261.6" y2="216.4" stroke="#c2c2b6" stroke-width="0.4"/><line x1="248.5" y1="123.6" x2="248.5" y2="216.4" stroke="#cfcfcf" stroke-width="0.3" stroke-dasharray="1.4 1.2"/><line x1="288.1" y1="123.6" x2="288.1" y2="216.4" stroke="#9a9a9a" stroke-width="0.4"/><line x1="274.85" y1="123.6" x2="274.85" y2="216.4" stroke="#cfcfcf" stroke-width="0.3" stroke-dasharray="1.4 1.2"/><line x1="314.9" y1="123.6" x2="314.9" y2="216.4" stroke="#c2c2b6" stroke-width="0.4"/><line x1="301.5" y1="123.6" x2="301.5" y2="216.4" stroke="#cfcfcf" stroke-width="0.3" stroke-dasharray="1.4 1.2"/><line x1="340.9" y1="123.6" x2="340.9" y2="216.4" stroke="#c2c2b6" stroke-width="0.4"/><line x1="327.9" y1="123.6" x2="327.9" y2="216.4" stroke="#cfcfcf" stroke-width="0.3" stroke-dasharray="1.4 1.2"/><line x1="354.2" y1="123.6" x2="354.2" y2="216.4" stroke="#cfcfcf" stroke-width="0.3" stroke-dasharray="1.4 1.2"/><rect x="58.2" y="192.9" width="12.7" height="23.5" fill="#ffe39a"/><line x1="58.45" y1="192.9" x2="58.45" y2="216.4" stroke="#ffa92a" stroke-width="0.5"/><line x1="70.65" y1="192.9" x2="70.65" y2="216.4" stroke="#ffa92a" stroke-width="0.5"/><rect x="58.2" y="174.9" width="12.7" height="18" fill="#fb5050"/><rect x="83.6" y="196.2" width="13.2" height="20.2" fill="#ffe39a"/><line x1="83.85" y1="196.2" x2="83.85" y2="216.4" stroke="#ffa92a" stroke-width="0.5"/><line x1="96.55" y1="196.2" x2="96.55" y2="216.4" stroke="#ffa92a" stroke-width="0.5"/><rect x="83.6" y="183.8" width="13.2" height="12.4" fill="#fb5050"/><rect x="109.5" y="194.1" width="13.1" height="22.3" fill="#ffe39a"/><line x1="109.75" y1="194.1" x2="109.75" y2="216.4" stroke="#ffa92a" stroke-width="0.5"/><line x1="122.35" y1="194.1" x2="122.35" y2="216.4" stroke="#ffa92a" stroke-width="0.5"/><rect x="109.5" y="183.8" width="13.1" height="10.3" fill="#fb5050"/><rect x="135.3" y="192.9" width="13.5" height="23.5" fill="#ffe39a"/><line x1="135.55" y1="192.9" x2="135.55" y2="216.4" stroke="#ffa92a" stroke-width="0.5"/><line x1="148.55" y1="192.9" x2="148.55" y2="216.4" stroke="#ffa92a" stroke-width="0.5"/><rect x="135.3" y="191" width="13.5" height="1.9" fill="#fb5050"/><rect x="162" y="196.2" width="13.4" height="20.2" fill="#ffe39a"/><rect x="162" y="196.2" width="13.4" height="0.8" fill="#ffc963"/><rect x="188.9" y="200.3" width="13" height="16.1" fill="#ffe39a"/><rect x="188.9" y="200.3" width="13" height="0.8" fill="#ffc963"/><rect x="195.3" y="213.6" width="6.6" height="2.8" fill="#66c4fc"/><rect x="195.3" y="213.6" width="6.6" height="0.5" fill="#58b4ec"/><rect x="215.3" y="198.3" width="12.8" height="18.1" fill="#ffe39a"/><rect x="215.3" y="198.3" width="12.8" height="0.8" fill="#ffc963"/><rect x="221.5" y="199.2" width="6.6" height="17.2" fill="#66c4fc"/><rect x="221.5" y="199.2" width="6.6" height="0.5" fill="#58b4ec"/><rect x="242" y="196.2" width="6.8" height="20.2" fill="#ffe39a"/><rect x="242" y="196.2" width="6.8" height="0.8" fill="#ffc963"/><rect x="248.8" y="191.4" width="6.6" height="25" fill="#66c4fc"/><rect x="248.8" y="191.4" width="6.6" height="0.5" fill="#58b4ec"/><rect x="268.9" y="199.2" width="13" height="17.2" fill="#ffe39a"/><rect x="268.9" y="199.2" width="13" height="0.8" fill="#ffc963"/><rect x="275.3" y="208.6" width="6.6" height="7.8" fill="#66c4fc"/><rect x="275.3" y="208.6" width="6.6" height="0.5" fill="#58b4ec"/><rect x="294.9" y="198.3" width="13.3" height="18.1" fill="#ffe39a"/><rect x="294.9" y="198.3" width="13.3" height="0.8" fill="#ffc963"/><rect x="321.6" y="197.6" width="13.5" height="18.8" fill="#ffe39a"/><line x1="321.85" y1="197.6" x2="321.85" y2="216.4" stroke="#ffa92a" stroke-width="0.5"/><line x1="334.85" y1="197.6" x2="334.85" y2="216.4" stroke="#ffa92a" stroke-width="0.5"/><rect x="321.6" y="193.1" width="13.5" height="4.5" fill="#fb5050"/><rect x="348.1" y="194.6" width="13.2" height="21.8" fill="#ffe39a"/><line x1="348.35" y1="194.6" x2="348.35" y2="216.4" stroke="#ffa92a" stroke-width="0.5"/><line x1="361.05" y1="194.6" x2="361.05" y2="216.4" stroke="#ffa92a" stroke-width="0.5"/><rect x="348.1" y="183.8" width="13.2" height="10.8" fill="#fb5050"/><line x1="50.6" y1="157.9" x2="367.5" y2="157.9" stroke="#ff9130" stroke-width="1.7"/><line x1="50.6" y1="183.1" x2="367.5" y2="183.1" stroke="#2f84f2" stroke-width="1.7"/><polyline points="50.6,176.85 51.55,176.54 52.5,177.58 53.45,176.47 54.4,177.43 55.35,177.13 56.3,176.56 57.25,177.5 58.2,176.6 59.15,177.43 60.1,176.74 61.05,176.76 62,177.41 62.95,178.19 63.9,176.77 64.85,176.95 65.8,177.74 66.75,178.36 67.7,177.6 68.65,177.22 69.6,178.36 70.55,176.48 71.5,178.09 72.45,176.93 73.4,176.62 74.35,176.55 75.3,176.91 76.25,177.91 77.2,176.62 78.15,177.4 79.1,177.5 80.05,176.94 81,177.24 81.95,176.21 82.9,176.15 83.85,176.38 84.8,177.27 85.75,176.71 86.7,176.43 87.65,176.91 88.6,176.59 89.55,176.23 90.5,177.16 91.45,176.91 92.4,175.94 93.35,176.55 94.3,176.39 95.25,177.04 96.2,176.69 97.15,175.75 98.1,177.07 99.05,175.29 100,175.84 100.95,176.47 101.9,175.21 102.85,175.84 103.8,174.89 104.75,176.1 105.7,176.24 106.65,175.81 107.6,176.37 108.55,175.2 109.5,175.92 110.45,175.67 111.4,175.59 112.35,175.29 113.3,176.01 114.25,176.18 115.2,175.19 116.15,175.52 117.1,174.27 118.05,175.5 119,175.34 119.95,175.99 120.9,175.54 121.85,174.35 122.8,174.44 123.75,174.89 124.7,173.48 125.65,174.25 126.6,173.54 127.55,173.33 128.5,173.1 129.45,174.4 130.4,173.01 131.35,173.13 132.3,173.31 133.25,174.15 134.2,172.46 135.15,173.08 136.1,173.16 137.05,173.7 138,173.45 138.95,173.41 139.9,172.12 140.85,172.27 141.8,172.03 142.75,172.95 143.7,172.98 144.65,171.24 145.6,171.17 146.55,171.15 147.5,171.03 148.45,171.41 149.4,171.48 150.35,170.69 151.3,170.04 152.25,170.73 153.2,170.5 154.15,170.75 155.1,171.21 156.05,168.78 157,166.53 157.95,165.6 158.9,166.2 159.85,167.68 160.8,170.33 161.75,170.73 162.7,171.55 163.65,170.84 164.6,168.92 165.55,167.82 166.5,167.37 167.45,169.7 168.4,169.82 169.35,170.28 170.3,169.62 171.25,168.57 172.2,168.16 173.15,167.46 174.1,167.24 175.05,167.42 176,167.2 176.95,167.61 177.9,166.81 178.85,168.39 179.8,167.75 180.75,166.68 181.7,166.75 182.65,166.8 183.6,166.69 184.55,166.06 185.5,167.37 186.45,167.52 187.4,166.32 188.35,166.22 189.3,165.28 190.25,165.18 191.2,165.57 192.15,165.31 193.1,166.35 194.05,164.92 195,164.55 195.95,166.31 196.9,165.37 197.85,164.51 198.8,165.21 199.75,164.08 200.7,165.01 201.65,165.84 202.6,165.54 203.55,165.14 204.5,164.21 205.45,164.35 206.4,163.89 207.35,165.03 208.3,164.48 209.25,164.91 210.2,163.97 211.15,163.8 212.1,165.03 213.05,165.42 214,165.21 214.95,165.16 215.9,165.23 216.85,165.12 217.8,164.14 218.75,164.77 219.7,164.5 220.65,163.82 221.6,163.77 222.55,164.22 223.5,164.13 224.45,164.95 225.4,165.43 226.35,164.36 227.3,165.28 228.25,165.34 229.2,165.22 230.15,163.99 231.1,163.65 232.05,163.61 233,163.5 233.95,163.46 234.9,164.25 235.85,164.77 236.8,164.61 237.75,163.85 238.7,164.16 239.65,164.41 240.6,162.95 241.55,164.06 242.5,164.52 243.45,164.23 244.4,164.12 245.35,163.54 246.3,162.91 247.25,164.09 248.2,163.14 249.15,164.04 250.1,164.35 251.05,163.29 252,163.38 252.95,164.56 253.9,164.2 254.85,163.18 255.8,163.18 256.75,163.31 257.7,164.9 258.65,164.79 259.6,163.56 260.55,165.02 261.5,165.43 262.45,164.89 263.4,164.39 264.35,164.89 265.3,164.16 266.25,164.04 267.2,166.06 268.15,165.52 269.1,165.38 270.05,166.31 271,165.41 271.95,166.4 272.9,166.41 273.85,165.29 274.8,165.48 275.75,165.68 276.7,165.7 277.65,166.52 278.6,165.99 279.55,166.43 280.5,165.98 281.45,167.66 282.4,166.67 283.35,167 284.3,167.38 285.25,168.15 286.2,167.35 287.15,168.5 288.1,167.83 289.05,168.06 290,168.2 290.95,167.36 291.9,168.36 292.85,168.29 293.8,168.41 294.75,170.47 295.7,169.69 296.65,170.12 297.6,170.15 298.55,169.34 299.5,168.4 300.45,168.57 301.4,168.73 302.35,169.26 303.3,167.99 304.25,168.97 305.2,168.43 306.15,168.69 307.1,170.51 308.05,170.81 309,171.75 309.95,172.98 310.9,172.49 311.85,170.68 312.8,170.14 313.75,169.04 314.7,169.38 315.65,170.51 316.6,170.78 317.55,171.71 318.5,171.87 319.45,172.64 320.4,172 321.35,172.19 322.3,172.17 323.25,170.64 324.2,171.22 325.15,172.46 326.1,172.73 327.05,171.8 328,172.24 328.95,173.36 329.9,173.1 330.85,173.59 331.8,173.37 332.75,174.68 333.7,175.03 334.65,175.38 335.6,174.01 336.55,175.25 337.5,175.26 338.45,174.21 339.4,175.53 340.35,175.54 341.3,168.05 342.25,163.16 343.2,168.8 344.15,173.72 345.1,176.57 346.05,176.39 347,175.19 347.95,175.86 348.9,176.17 349.85,175.96 350.8,175.74 351.75,176.05 352.7,176.91 353.65,175.57 354.6,176.7 355.55,176.53 356.5,175.74 357.45,176.43 358.4,177.03 359.35,176.77 360.3,175.83 361.25,177.63 362.2,177.2 363.15,177.52 364.1,175.75 365.05,176.03 366,175.54 366.95,176.97" fill="none" stroke="#cc7258" stroke-width="0.42" stroke-linejoin="round"/><polyline points="50.6,202.77 51.65,198.94 52.7,203.24 53.75,201.24 54.8,200.22 55.85,200.03 56.9,203.69 57.95,210.93 59,206.23 60.05,205.53 61.1,204.24 62.15,202.29 63.2,199.05 64.25,201.18 65.3,202.83 66.35,203.53 67.4,205.34 68.45,203.8 69.5,200.49 70.55,204.12 71.6,200.04 72.65,199.66 73.7,204.19 74.75,201.54 75.8,202.37 76.85,198.75 77.9,202.87 78.95,200.28 80,205.23 81.05,200.12 82.1,203.38 83.15,198.3 84.2,198.55 85.25,203.19 86.3,196.94 87.35,198.03 88.4,202.3 89.45,199.73 90.5,199.41 91.55,202.08 92.6,198.04 93.65,198.16 94.7,200.43 95.75,199.84 96.8,198.32 97.85,197.78 98.9,196.44 99.95,195.95 101,199.09 102.05,197.07 103.1,201.43 104.15,197.36 105.2,199.91 106.25,198.91 107.3,196.2 108.35,197.64 109.4,192.34 110.45,192.58 111.5,195.96 112.55,195.69 113.6,194.33 114.65,193.88 115.7,191.35 116.75,191.13 117.8,185.58 118.85,188.94 119.9,184.75 120.95,182.29 122,189.88 123.05,192.88 124.1,197.26 125.15,195.06 126.2,200.95 127.25,200.29 128.3,205.11 129.35,200.5 130.4,195.16 131.45,193.61 132.5,190.14 133.55,188.31 134.6,185.36 135.65,188.13 136.7,185.94 137.75,188.21 138.8,186.4 139.85,185.28 140.9,181.95 141.95,185.41 143,184.6 144.05,185.15 145.1,184.1 146.15,181.16 147.2,179.68 148.25,181.66 149.3,185.85 150.35,186.5 151.4,184.53 152.45,181.71 153.5,178.91 154.55,180.92 155.6,180.28 156.65,176.4 157.7,172.47 158.75,176.24 159.8,176.85 160.85,182.73 161.9,184.37 162.95,184.96 164,187.28 165.05,184.84 166.1,183.75 167.15,182.39 168.2,182.89 169.25,184.53 170.3,189.98 171.35,184.11 172.4,183.91 173.45,182.05 174.5,178.13 175.55,177.35 176.6,176.75 177.65,176.94 178.7,175.7 179.75,176.07 180.8,174.19 181.85,173.2 182.9,174.42 183.95,175.68 185,177.23 186.05,176.56 187.1,172.34 188.15,177.91 189.2,173.24 190.25,169.51 191.3,171.5 192.35,171.39 193.4,169.57 194.45,169.49 195.5,169.03 196.55,167.29 197.6,171.29 198.65,169.47 199.7,168.75 200.75,170.88 201.8,166.44 202.85,167.95 203.9,171.34 204.95,164.14 206,164.33 207.05,169.41 208.1,165.35 209.15,166.59 210.2,166.9 211.25,169.9 212.3,165.52 213.35,166.8 214.4,166.13 215.45,166.22 216.5,164.73 217.55,166.59 218.6,165.72 219.65,163.53 220.7,162.04 221.75,163.92 222.8,162.05 223.85,164.82 224.9,166.61 225.95,164.87 227,162.52 228.05,163.87 229.1,166 230.15,167.01 231.2,166.3 232.25,165.61 233.3,165.19 234.35,173.99 235.4,164.71 236.45,162.54 237.5,161.26 238.55,166.71 239.6,159.96 240.65,160.57 241.7,162.02 242.75,161.38 243.8,164.83 244.85,162.82 245.9,161.98 246.95,161.96 248,159.72 249.05,162.07 250.1,159.34 251.15,162.46 252.2,163.03 253.25,159.09 254.3,162.15 255.35,159.37 256.4,161.24 257.45,160.14 258.5,165.74 259.55,163.44 260.6,168.84 261.65,164.97 262.7,165.28 263.75,165.09 264.8,165.15 265.85,167.39 266.9,162.69 267.95,166.07 269,167.99 270.05,166.34 271.1,167.13 272.15,169.52 273.2,175.79 274.25,174.6 275.3,175.43 276.35,173.97 277.4,171.59 278.45,170.01 279.5,173.39 280.55,173.28 281.6,170.69 282.65,172 283.7,175.01 284.75,177.1 285.8,177.13 286.85,175.74 287.9,178.41 288.95,178.26 290,177.38 291.05,176.65 292.1,182.33 293.15,179.16 294.2,176.29 295.25,177.45 296.3,176.84 297.35,176.5 298.4,179 299.45,177.83 300.5,183.53 301.55,179.31 302.6,181.06 303.65,181.89 304.7,182.38 305.75,181.13 306.8,182.08 307.85,183.07 308.9,180.58 309.95,188.78 311,181.24 312.05,181.44 313.1,189.06 314.15,183.96 315.2,185.47 316.25,184.41 317.3,185.47 318.35,185.95 319.4,182.32 320.45,186.79 321.5,184.72 322.55,191.93 323.6,193.15 324.65,186.08 325.7,188.56 326.75,186.27 327.8,187.09 328.85,190 329.9,194.17 330.95,191.69 332,191.85 333.05,193.25 334.1,196.82 335.15,195.05 336.2,195.98 337.25,195.96 338.3,195.1 339.35,193.72 340.4,189.56 341.45,187.11 342.5,190.51 343.55,191.9 344.6,194.52 345.65,193.93 346.7,198.97 347.75,196.41 348.8,193.09 349.85,192.37 350.9,197.83 351.95,195.61 353,194.06 354.05,192.68 355.1,196.64 356.15,199.25 357.2,198.46 358.25,195.79 359.3,195.31 360.35,196.07 361.4,201.15 362.45,201.81 363.5,207.27 364.55,212.65 365.6,213.47 366.65,214.93" fill="none" stroke="#1f9fd2" stroke-width="0.42" stroke-linejoin="round"/><line x1="50.6" y1="123.6" x2="367.5" y2="123.6" stroke="#555" stroke-width="0.8"/><line x1="50.6" y1="123.2" x2="50.6" y2="216.4" stroke="#555" stroke-width="0.8"/><line x1="367.5" y1="123.6" x2="367.5" y2="216.4" stroke="#555" stroke-width="0.7"/><line x1="50.6" y1="216.4" x2="367.5" y2="216.4" stroke="#555" stroke-width="0.7"/><text x="51.2" y="128.9" font-size="4.1" fill="#111" font-weight="bold">1月1日</text><text x="78.3" y="128.9" font-size="4.1" fill="#111" font-weight="bold">2月1日</text><text x="102.3" y="128.9" font-size="4.1" fill="#111" font-weight="bold">3月1日</text><text x="130" y="128.9" font-size="4.1" fill="#111" font-weight="bold">4月1日</text><text x="155.3" y="128.9" font-size="4.1" fill="#111" font-weight="bold">5月1日</text><text x="182.4" y="128.9" font-size="4.1" fill="#111" font-weight="bold">6月1日</text><text x="209.1" y="128.9" font-size="4.1" fill="#111" font-weight="bold">7月1日</text><text x="236" y="128.9" font-size="4.1" fill="#111" font-weight="bold">8月1日</text><text x="262.2" y="128.9" font-size="4.1" fill="#111" font-weight="bold">9月1日</text><text x="288.7" y="128.9" font-size="4.1" fill="#111" font-weight="bold">10月1日</text><text x="315.5" y="128.9" font-size="4.1" fill="#111" font-weight="bold">11月1日</text><text x="341.5" y="128.9" font-size="4.1" fill="#111" font-weight="bold">12月1日</text><text x="49.3" y="217.5" font-size="3" fill="#333" text-anchor="end">-5</text><line x1="49.6" y1="216.4" x2="50.6" y2="216.4" stroke="#555" stroke-width="0.35"/><text x="49.3" y="209.06" font-size="3" fill="#333" text-anchor="end">0</text><line x1="49.6" y1="207.96" x2="50.6" y2="207.96" stroke="#555" stroke-width="0.35"/><text x="49.3" y="200.63" font-size="3" fill="#333" text-anchor="end">5</text><line x1="49.6" y1="199.53" x2="50.6" y2="199.53" stroke="#555" stroke-width="0.35"/><text x="49.3" y="192.19" font-size="3" fill="#333" text-anchor="end">10</text><line x1="49.6" y1="191.09" x2="50.6" y2="191.09" stroke="#555" stroke-width="0.35"/><text x="49.3" y="183.75" font-size="3" fill="#333" text-anchor="end">15</text><line x1="49.6" y1="182.65" x2="50.6" y2="182.65" stroke="#555" stroke-width="0.35"/><text x="49.3" y="175.32" font-size="3" fill="#333" text-anchor="end">20</text><line x1="49.6" y1="174.22" x2="50.6" y2="174.22" stroke="#555" stroke-width="0.35"/><text x="49.3" y="166.88" font-size="3" fill="#333" text-anchor="end">25</text><line x1="49.6" y1="165.78" x2="50.6" y2="165.78" stroke="#555" stroke-width="0.35"/><text x="49.3" y="158.45" font-size="3" fill="#333" text-anchor="end">30</text><line x1="49.6" y1="157.35" x2="50.6" y2="157.35" stroke="#555" stroke-width="0.35"/><text x="49.3" y="150.01" font-size="3" fill="#333" text-anchor="end">35</text><line x1="49.6" y1="148.91" x2="50.6" y2="148.91" stroke="#555" stroke-width="0.35"/><text x="49.3" y="141.57" font-size="3" fill="#333" text-anchor="end">40</text><line x1="49.6" y1="140.47" x2="50.6" y2="140.47" stroke="#555" stroke-width="0.35"/><text x="49.3" y="133.14" font-size="3" fill="#333" text-anchor="end">45</text><line x1="49.6" y1="132.04" x2="50.6" y2="132.04" stroke="#555" stroke-width="0.35"/><text x="49.3" y="124.7" font-size="3" fill="#333" text-anchor="end">50</text><line x1="49.6" y1="123.6" x2="50.6" y2="123.6" stroke="#555" stroke-width="0.35"/><text x="41.2" y="121.2" font-size="3" fill="#222">(℃)</text><text x="378.3" y="217.6" font-size="3" fill="#333" text-anchor="end">0</text><text x="378.3" y="208.6" font-size="3" fill="#333" text-anchor="end">200</text><text x="378.3" y="199.6" font-size="3" fill="#333" text-anchor="end">400</text><text x="378.3" y="190.6" font-size="3" fill="#333" text-anchor="end">600</text><text x="378.3" y="172.6" font-size="3" fill="#333" text-anchor="end">1000</text><text x="377" y="121.5" font-size="3.5" fill="#111" text-anchor="end" font-weight="bold">(冷房・暖房負荷:kWh)</text><rect x="368.6" y="155.2" width="9.2" height="6" fill="#fff" stroke="#ff8a30" stroke-width="0.7"/><text x="373.2" y="159.6" font-size="3.6" fill="#222" text-anchor="middle">28℃</text><rect x="368.6" y="180.2" width="9.2" height="6.1" fill="#fff" stroke="#2f7df0" stroke-width="0.7"/><text x="373.2" y="184.6" font-size="3.6" fill="#222" text-anchor="middle">15℃</text><rect x="341.6" y="157" width="8.7" height="5.4" fill="#fff" stroke="#f0a6a6" stroke-width="0.5"/><text x="346" y="161.1" font-size="3.6" fill="#ee9c9c" text-anchor="middle">LDK</text><rect x="354.4" y="215.8" width="11" height="5.2" fill="#fff" stroke="#3caee0" stroke-width="0.5"/><text x="359.9" y="220" font-size="3.9" fill="#2aa0d8" text-anchor="middle">外気</text><line x1="250.4" y1="122" x2="250.4" y2="216.4" stroke="#2a3af2" stroke-width="0.65"/><polygon points="248.4,120 252.4,120 250.4,122.9" fill="#1a2cf0"/><line x1="40.5" y1="21.6" x2="40.5" y2="225.4" stroke="#8e8e8e" stroke-width="0.6"/></svg></div>
<p class="cap" style="left:14.6px;top:245px">94</p>
<p class="cap" style="left:431.6px;top:245px">95</p>
<div class="card" style="left:13px;top:279px"><svg viewBox="13 279 393 223" width="393" height="223" role="img" aria-label="冬の表面温度3D"><rect x="23.4" y="291.3" width="358.6" height="205.5" fill="#606060"/><circle cx="28.1" cy="287" r="4.5" fill="#fff" stroke="#555" stroke-width="0.4"/><polygon points="25.6,283.8 32,285.9 30.5,287.4 32.1,289.4 30.6,290.3 29,288.5 27.2,290" fill="#000"/><text x="34.9" y="288.4" font-size="4.1" fill="#666">1月6日 00:00</text><text x="42.2" y="314.4" font-size="10.2" fill="#1414f0">冬</text><text x="387.7" y="287.2" font-size="2.9" fill="#222" text-anchor="middle" font-weight="bold">表面温度</text><text x="393.4" y="288.8" font-size="2.6" fill="#222" text-anchor="middle">[℃]</text><defs><linearGradient id="gC" x1="0" y1="0" x2="0" y2="1"><stop offset="0" stop-color="#ffdcea"/><stop offset="0.09" stop-color="#ffb2c6"/><stop offset="0.17" stop-color="#ff7e8e"/><stop offset="0.26" stop-color="#ff1c1c"/><stop offset="0.36" stop-color="#ff0000"/><stop offset="0.43" stop-color="#ff6a0c"/><stop offset="0.5" stop-color="#f6dc38"/><stop offset="0.55" stop-color="#e6e640"/><stop offset="0.61" stop-color="#62d23c"/><stop offset="0.68" stop-color="#5ce89c"/><stop offset="0.76" stop-color="#40e2ff"/><stop offset="0.84" stop-color="#2266ff"/><stop offset="0.93" stop-color="#0000d2"/><stop offset="1" stop-color="#000082"/></linearGradient></defs><rect x="383.3" y="289.3" width="7.6" height="77.3" fill="url(#gC)" stroke="#d8d8d8" stroke-width="0.3"/><text x="391.3" y="291.2" font-size="2.6" fill="#333">45</text><text x="391.3" y="299.75" font-size="2.6" fill="#333">40</text><text x="391.3" y="308.3" font-size="2.6" fill="#333">35</text><text x="391.3" y="316.85" font-size="2.6" fill="#333">30</text><text x="391.3" y="325.4" font-size="2.6" fill="#333">25</text><text x="391.3" y="333.95" font-size="2.6" fill="#333">20</text><text x="391.3" y="342.5" font-size="2.6" fill="#333">15</text><text x="391.3" y="351.05" font-size="2.6" fill="#333">10</text><text x="391.3" y="359.6" font-size="2.6" fill="#333">5</text><text x="391.3" y="368.15" font-size="2.6" fill="#333">0</text><defs><linearGradient id="gCt" x1="0" y1="0" x2="0" y2="1"><stop offset="0" stop-color="#e9ae2e"/><stop offset="1" stop-color="#df7d0e"/></linearGradient></defs><rect x="385.2" y="371.2" width="8.5" height="16.2" fill="url(#gCt)" rx="0.51"/><line x1="386.39" y1="373.31" x2="388.09" y2="373.31" stroke="#f8dc98" stroke-width="0.43"/><line x1="390.81" y1="373.31" x2="392.51" y2="373.31" stroke="#f8dc98" stroke-width="0.43"/><line x1="386.39" y1="376.14" x2="388.09" y2="376.14" stroke="#f8dc98" stroke-width="0.43"/><line x1="390.81" y1="376.14" x2="392.51" y2="376.14" stroke="#f8dc98" stroke-width="0.43"/><line x1="386.39" y1="378.98" x2="388.09" y2="378.98" stroke="#f8dc98" stroke-width="0.43"/><line x1="390.81" y1="378.98" x2="392.51" y2="378.98" stroke="#f8dc98" stroke-width="0.43"/><line x1="386.39" y1="381.81" x2="388.09" y2="381.81" stroke="#f8dc98" stroke-width="0.43"/><line x1="390.81" y1="381.81" x2="392.51" y2="381.81" stroke="#f8dc98" stroke-width="0.43"/><rect x="388.43" y="372.33" width="2.04" height="11.83" rx="1.02" fill="#fff"/><circle cx="389.45" cy="384.16" r="2.12" fill="#fff"/><circle cx="389.45" cy="384.16" r="1.57" fill="#1c3cd0"/><rect x="388.78" y="380.76" width="1.35" height="3.4" fill="#1c3cd0"/><text x="389.4" y="390.1" font-size="2.6" fill="#111" text-anchor="middle" font-weight="bold">外気温</text><text x="389.4" y="393.9" font-size="3.7" fill="#111" text-anchor="middle">−1.0°C</text><rect x="23.3" y="475.9" width="13.2" height="13.2" fill="#f4f4f4"/><circle cx="29.9" cy="482.5" r="5.9" fill="#fff" stroke="#ccc" stroke-width="0.5"/><line x1="29.9" y1="477.8" x2="29.9" y2="477" stroke="#777" stroke-width="0.5"/><line x1="32.25" y1="478.43" x2="32.65" y2="477.74" stroke="#777" stroke-width="0.5"/><line x1="33.97" y1="480.15" x2="34.66" y2="479.75" stroke="#777" stroke-width="0.5"/><line x1="34.6" y1="482.5" x2="35.4" y2="482.5" stroke="#777" stroke-width="0.5"/><line x1="33.97" y1="484.85" x2="34.66" y2="485.25" stroke="#777" stroke-width="0.5"/><line x1="32.25" y1="486.57" x2="32.65" y2="487.26" stroke="#777" stroke-width="0.5"/><line x1="29.9" y1="487.2" x2="29.9" y2="488" stroke="#777" stroke-width="0.5"/><line x1="27.55" y1="486.57" x2="27.15" y2="487.26" stroke="#777" stroke-width="0.5"/><line x1="25.83" y1="484.85" x2="25.14" y2="485.25" stroke="#777" stroke-width="0.5"/><line x1="25.2" y1="482.5" x2="24.4" y2="482.5" stroke="#777" stroke-width="0.5"/><line x1="25.83" y1="480.15" x2="25.14" y2="479.75" stroke="#777" stroke-width="0.5"/><line x1="27.55" y1="478.43" x2="27.15" y2="477.74" stroke="#777" stroke-width="0.5"/><line x1="29.9" y1="482.5" x2="29.9" y2="478.09" stroke="#bbb" stroke-width="0.6"/><line x1="29.9" y1="482.5" x2="29.9" y2="483.44" stroke="#bbb" stroke-width="0.6"/><rect x="23.4" y="489.2" width="55.6" height="7.6" fill="#fff"/><rect x="23.4" y="489.4" width="16.6" height="4.8" fill="#ff9a2e"/><text x="31.7" y="493.3" font-size="3.2" fill="#4a2a00" text-anchor="middle" font-weight="bold">日射取得</text><rect x="23.4" y="494.2" width="16.6" height="2.6" fill="#f01818"/><text x="31.7" y="496.7" font-size="2.6" fill="#500" text-anchor="middle" font-weight="bold">暖房負荷</text><line x1="40" y1="494.2" x2="79" y2="494.2" stroke="#e4e4e4" stroke-width="0.3"/><text x="54" y="493" font-size="3" fill="#444" text-anchor="middle">0Wh</text><text x="54" y="496.6" font-size="2.6" fill="#666" text-anchor="middle">0Wh</text><polygon points="121.7,349.6 202,349.8 289.2,379.9 289.2,382.3 296.9,386.1 295.7,447.7 293.2,453.1 276.5,457.5 203.4,442.4 134.7,452.9 93,440.4 92.4,393.4 121.7,391.9" fill="#7de35a"/><polygon points="92.4,393.4 134.7,399.3 134.7,452.9 93,440.4" fill="#74e262"/><polygon points="105.5,398.2 134.7,403 134.7,444 105.5,437.3" fill="#90e862"/><polygon points="134.7,399.3 158.4,399 172.5,399 172.5,447 134.7,452.9" fill="#8ae85e"/><polygon points="203.4,366.2 241.3,378 241.3,443.4 203.4,435.9" fill="#76e055"/><polygon points="172.5,399 203.4,396 203.4,435.9 172.5,439.6" fill="#88e85e"/><polygon points="189.5,399 201,397.5 201,433 189.5,434.5" fill="#76e055"/><polygon points="121.7,349.6 128.8,358.3 128.8,392.3 121.7,391.9" fill="#72e67e"/><polygon points="121.7,349.6 202,349.8 222.5,358 128.8,358.3" fill="#80efb2"/><polygon points="214.4,358 222.5,358 229.8,361.4 229.8,365.4 214.4,365.4" fill="#74e9a6"/><polygon points="241.3,378.2 254.3,378.2 255.5,379 279.2,380.6 278,395.6 241.3,397.9" fill="#80f6e0"/><polygon points="229.8,361.3 241.3,365.3 241.3,377.8 233,377.8 233,365 229.8,365" fill="#82fbff"/><polygon points="242.2,365.6 254.3,370 254.3,378.4 242.2,378.4" fill="#82fbff"/><polygon points="254.3,370 279.2,378.6 279.2,380.4 255.5,379.2 254.3,378.4" fill="#84f0b2"/><polygon points="279.2,378.6 289.2,379.9 289.2,382.3 296.9,386.1 295.9,405.6 278,402.7 278,395.6 279.2,380.4" fill="#82fbff"/><polygon points="241.3,397.9 278,395.6 278,399.9 241.3,402.9" fill="#74e254"/><polygon points="241.3,402.9 278,399.9 278,402.7 295.9,405.6 295.7,447.7 276.7,450.3 241.3,443.4" fill="#80f0ba"/><polygon points="241.3,402.9 256.5,401.7 256.5,446.3 241.3,443.4" fill="#84ee9e"/><polygon points="92.4,393.4 111.8,392.6 134.7,399.3 158.4,398.9 158.4,401.8 134.7,402.1 92.4,397.7" fill="#7feea6"/><polygon points="111.8,392.6 140.2,393.4 158.4,398.9 134.7,399.3" fill="#d6d6d6"/><polygon points="92.9,434.4 134.7,443.9 203.4,435.9 276.7,450.3 295.7,447.7 293.2,453.1 276.5,457.5 203.4,442.4 134.7,452.9 93,440.4" fill="#a4f061"/><line x1="128.8" y1="358.3" x2="222.5" y2="358" stroke="#a9b9a6" stroke-width="0.45" stroke-opacity="0.62"/><line x1="128.8" y1="358.3" x2="128.8" y2="392.3" stroke="#a9b9a6" stroke-width="0.45" stroke-opacity="0.62"/><line x1="134.7" y1="399.3" x2="134.7" y2="452.9" stroke="#a9b9a6" stroke-width="0.45" stroke-opacity="0.62"/><line x1="203.4" y1="358" x2="203.4" y2="442.4" stroke="#a9b9a6" stroke-width="0.45" stroke-opacity="0.62"/><line x1="141.5" y1="358.3" x2="141.5" y2="393.4" stroke="#a9b9a6" stroke-width="0.45" stroke-opacity="0.62"/><line x1="141.5" y1="366.8" x2="214.4" y2="366.2" stroke="#a9b9a6" stroke-width="0.45" stroke-opacity="0.62"/><line x1="156" y1="358.3" x2="156" y2="398" stroke="#a9b9a6" stroke-width="0.45" stroke-opacity="0.62"/><line x1="156" y1="380.5" x2="188" y2="380" stroke="#a9b9a6" stroke-width="0.45" stroke-opacity="0.62"/><line x1="188" y1="366.5" x2="188" y2="398.5" stroke="#a9b9a6" stroke-width="0.45" stroke-opacity="0.62"/><line x1="169.6" y1="358.2" x2="169.6" y2="366.6" stroke="#a9b9a6" stroke-width="0.45" stroke-opacity="0.62"/><line x1="181.3" y1="358.2" x2="181.3" y2="366.6" stroke="#a9b9a6" stroke-width="0.45" stroke-opacity="0.62"/><line x1="195.4" y1="358.1" x2="195.4" y2="366.4" stroke="#a9b9a6" stroke-width="0.45" stroke-opacity="0.62"/><line x1="200.6" y1="358.1" x2="200.6" y2="366.4" stroke="#a9b9a6" stroke-width="0.45" stroke-opacity="0.62"/><line x1="214.4" y1="358" x2="214.4" y2="437.5" stroke="#a9b9a6" stroke-width="0.45" stroke-opacity="0.62"/><line x1="222.7" y1="358" x2="222.7" y2="365.4" stroke="#a9b9a6" stroke-width="0.45" stroke-opacity="0.62"/><line x1="141.5" y1="381" x2="156" y2="381" stroke="#a9b9a6" stroke-width="0.45" stroke-opacity="0.62"/><line x1="172.5" y1="399" x2="172.5" y2="447" stroke="#a9b9a6" stroke-width="0.45" stroke-opacity="0.62"/><line x1="172.5" y1="399" x2="203.4" y2="396" stroke="#a9b9a6" stroke-width="0.45" stroke-opacity="0.62"/><line x1="188" y1="392" x2="203.4" y2="391" stroke="#a9b9a6" stroke-width="0.45" stroke-opacity="0.62"/><line x1="172.5" y1="428" x2="203.4" y2="424" stroke="#a9b9a6" stroke-width="0.45" stroke-opacity="0.62"/><line x1="179" y1="399" x2="179" y2="428" stroke="#a9b9a6" stroke-width="0.45" stroke-opacity="0.62"/><line x1="105.5" y1="398.2" x2="105.5" y2="437.3" stroke="#a9b9a6" stroke-width="0.45" stroke-opacity="0.62"/><line x1="105.5" y1="398.2" x2="134.7" y2="403" stroke="#a9b9a6" stroke-width="0.45" stroke-opacity="0.62"/><line x1="123" y1="402.5" x2="123" y2="421" stroke="#a9b9a6" stroke-width="0.45" stroke-opacity="0.62"/><line x1="123" y1="421" x2="134.7" y2="423.5" stroke="#a9b9a6" stroke-width="0.45" stroke-opacity="0.62"/><line x1="141" y1="403" x2="141" y2="432" stroke="#a9b9a6" stroke-width="0.45" stroke-opacity="0.62"/><line x1="148.4" y1="404" x2="148.4" y2="431" stroke="#a9b9a6" stroke-width="0.45" stroke-opacity="0.62"/><line x1="141" y1="404" x2="164" y2="403.5" stroke="#a9b9a6" stroke-width="0.45" stroke-opacity="0.62"/><line x1="164" y1="403.5" x2="164" y2="430" stroke="#a9b9a6" stroke-width="0.45" stroke-opacity="0.62"/><line x1="92.9" y1="434.4" x2="134.7" y2="443.9" stroke="#a9b9a6" stroke-width="0.45" stroke-opacity="0.62"/><line x1="134.7" y1="443.9" x2="203.4" y2="435.9" stroke="#a9b9a6" stroke-width="0.45" stroke-opacity="0.62"/><line x1="203.4" y1="435.9" x2="276.7" y2="450.3" stroke="#a9b9a6" stroke-width="0.45" stroke-opacity="0.62"/><line x1="276.7" y1="450.3" x2="295.7" y2="447.7" stroke="#a9b9a6" stroke-width="0.45" stroke-opacity="0.62"/><line x1="93" y1="429" x2="105.5" y2="432" stroke="#a9b9a6" stroke-width="0.45" stroke-opacity="0.62"/><line x1="105.5" y1="437.3" x2="134.7" y2="444" stroke="#a9b9a6" stroke-width="0.45" stroke-opacity="0.62"/><line x1="134.7" y1="433" x2="172.5" y2="428" stroke="#a9b9a6" stroke-width="0.45" stroke-opacity="0.62"/><line x1="203.4" y1="381" x2="241.3" y2="380" stroke="#a9b9a6" stroke-width="0.45" stroke-opacity="0.62"/><line x1="214.4" y1="366" x2="241.3" y2="378" stroke="#a9b9a6" stroke-width="0.45" stroke-opacity="0.62"/><line x1="203.4" y1="396" x2="241.3" y2="397.9" stroke="#a9b9a6" stroke-width="0.45" stroke-opacity="0.62"/><line x1="229" y1="378" x2="229" y2="441" stroke="#a9b9a6" stroke-width="0.45" stroke-opacity="0.62"/><line x1="236" y1="398" x2="236" y2="442.3" stroke="#a9b9a6" stroke-width="0.45" stroke-opacity="0.62"/><line x1="221.5" y1="381" x2="221.5" y2="439" stroke="#a9b9a6" stroke-width="0.45" stroke-opacity="0.62"/><line x1="203.4" y1="424" x2="229" y2="429" stroke="#a9b9a6" stroke-width="0.45" stroke-opacity="0.62"/><line x1="241.3" y1="378.6" x2="279" y2="392" stroke="#a9b9a6" stroke-width="0.45" stroke-opacity="0.62"/><line x1="256.5" y1="401.7" x2="256.5" y2="446.3" stroke="#a9b9a6" stroke-width="0.45" stroke-opacity="0.62"/><line x1="263.5" y1="402" x2="263.5" y2="447.6" stroke="#a9b9a6" stroke-width="0.45" stroke-opacity="0.62"/><line x1="270.5" y1="402.2" x2="270.5" y2="449" stroke="#a9b9a6" stroke-width="0.45" stroke-opacity="0.62"/><line x1="278" y1="380.4" x2="278" y2="450" stroke="#a9b9a6" stroke-width="0.45" stroke-opacity="0.62"/><line x1="284.5" y1="404" x2="284.5" y2="449.2" stroke="#a9b9a6" stroke-width="0.45" stroke-opacity="0.62"/><line x1="256.5" y1="414" x2="278" y2="415.5" stroke="#a9b9a6" stroke-width="0.45" stroke-opacity="0.62"/><line x1="289.2" y1="379.9" x2="289.2" y2="386" stroke="#a9b9a6" stroke-width="0.45" stroke-opacity="0.62"/><line x1="278" y1="390.5" x2="296.6" y2="391.5" stroke="#a9b9a6" stroke-width="0.45" stroke-opacity="0.62"/><line x1="254.3" y1="370" x2="254.3" y2="378.4" stroke="#a9b9a6" stroke-width="0.45" stroke-opacity="0.62"/><line x1="254.3" y1="370" x2="279.2" y2="380.4" stroke="#a9b9a6" stroke-width="0.45" stroke-opacity="0.62"/><line x1="241.7" y1="365.4" x2="241.7" y2="443.4" stroke="#9fc49a" stroke-width="0.9"/></svg></div>
<div class="card" style="left:430px;top:279px"><svg viewBox="13 279 393 223" width="393" height="223" role="img" aria-label="夏の表面温度3D"><rect x="23.4" y="291.3" width="358.6" height="205.5" fill="#606060"/><circle cx="28.1" cy="287" r="4.5" fill="#fff" stroke="#555" stroke-width="0.4"/><polygon points="25.6,283.8 32,285.9 30.5,287.4 32.1,289.4 30.6,290.3 29,288.5 27.2,290" fill="#000"/><text x="34.9" y="288.4" font-size="4.1" fill="#666">8月19日 00:00</text><text x="42.2" y="314.4" font-size="10.2" fill="#1414f0">夏</text><text x="387.7" y="287.2" font-size="2.9" fill="#222" text-anchor="middle" font-weight="bold">表面温度</text><text x="393.4" y="288.8" font-size="2.6" fill="#222" text-anchor="middle">[℃]</text><defs><linearGradient id="gD" x1="0" y1="0" x2="0" y2="1"><stop offset="0" stop-color="#ffdcea"/><stop offset="0.09" stop-color="#ffb2c6"/><stop offset="0.17" stop-color="#ff7e8e"/><stop offset="0.26" stop-color="#ff1c1c"/><stop offset="0.36" stop-color="#ff0000"/><stop offset="0.43" stop-color="#ff6a0c"/><stop offset="0.5" stop-color="#f6dc38"/><stop offset="0.55" stop-color="#e6e640"/><stop offset="0.61" stop-color="#62d23c"/><stop offset="0.68" stop-color="#5ce89c"/><stop offset="0.76" stop-color="#40e2ff"/><stop offset="0.84" stop-color="#2266ff"/><stop offset="0.93" stop-color="#0000d2"/><stop offset="1" stop-color="#000082"/></linearGradient></defs><rect x="383.3" y="289.3" width="7.6" height="77.3" fill="url(#gD)" stroke="#d8d8d8" stroke-width="0.3"/><text x="391.3" y="291.2" font-size="2.6" fill="#333">45</text><text x="391.3" y="299.75" font-size="2.6" fill="#333">40</text><text x="391.3" y="308.3" font-size="2.6" fill="#333">35</text><text x="391.3" y="316.85" font-size="2.6" fill="#333">30</text><text x="391.3" y="325.4" font-size="2.6" fill="#333">25</text><text x="391.3" y="333.95" font-size="2.6" fill="#333">20</text><text x="391.3" y="342.5" font-size="2.6" fill="#333">15</text><text x="391.3" y="351.05" font-size="2.6" fill="#333">10</text><text x="391.3" y="359.6" font-size="2.6" fill="#333">5</text><text x="391.3" y="368.15" font-size="2.6" fill="#333">0</text><defs><linearGradient id="gDt" x1="0" y1="0" x2="0" y2="1"><stop offset="0" stop-color="#e9ae2e"/><stop offset="1" stop-color="#df7d0e"/></linearGradient></defs><rect x="385.2" y="371.2" width="8.5" height="16.2" fill="url(#gDt)" rx="0.51"/><line x1="386.39" y1="373.31" x2="388.09" y2="373.31" stroke="#f8dc98" stroke-width="0.43"/><line x1="390.81" y1="373.31" x2="392.51" y2="373.31" stroke="#f8dc98" stroke-width="0.43"/><line x1="386.39" y1="376.14" x2="388.09" y2="376.14" stroke="#f8dc98" stroke-width="0.43"/><line x1="390.81" y1="376.14" x2="392.51" y2="376.14" stroke="#f8dc98" stroke-width="0.43"/><line x1="386.39" y1="378.98" x2="388.09" y2="378.98" stroke="#f8dc98" stroke-width="0.43"/><line x1="390.81" y1="378.98" x2="392.51" y2="378.98" stroke="#f8dc98" stroke-width="0.43"/><line x1="386.39" y1="381.81" x2="388.09" y2="381.81" stroke="#f8dc98" stroke-width="0.43"/><line x1="390.81" y1="381.81" x2="392.51" y2="381.81" stroke="#f8dc98" stroke-width="0.43"/><rect x="388.43" y="372.33" width="2.04" height="11.83" rx="1.02" fill="#fff"/><circle cx="389.45" cy="384.16" r="2.12" fill="#fff"/><circle cx="389.45" cy="384.16" r="1.57" fill="#f4a060"/><rect x="388.78" y="377.36" width="1.35" height="6.8" fill="#f4a060"/><text x="389.4" y="390.1" font-size="2.6" fill="#111" text-anchor="middle" font-weight="bold">外気温</text><text x="389.4" y="393.9" font-size="3.7" fill="#111" text-anchor="middle">27.2°C</text><rect x="23.3" y="475.9" width="13.2" height="13.2" fill="#f4f4f4"/><circle cx="29.9" cy="482.5" r="5.9" fill="#fff" stroke="#ccc" stroke-width="0.5"/><line x1="29.9" y1="477.8" x2="29.9" y2="477" stroke="#777" stroke-width="0.5"/><line x1="32.25" y1="478.43" x2="32.65" y2="477.74" stroke="#777" stroke-width="0.5"/><line x1="33.97" y1="480.15" x2="34.66" y2="479.75" stroke="#777" stroke-width="0.5"/><line x1="34.6" y1="482.5" x2="35.4" y2="482.5" stroke="#777" stroke-width="0.5"/><line x1="33.97" y1="484.85" x2="34.66" y2="485.25" stroke="#777" stroke-width="0.5"/><line x1="32.25" y1="486.57" x2="32.65" y2="487.26" stroke="#777" stroke-width="0.5"/><line x1="29.9" y1="487.2" x2="29.9" y2="488" stroke="#777" stroke-width="0.5"/><line x1="27.55" y1="486.57" x2="27.15" y2="487.26" stroke="#777" stroke-width="0.5"/><line x1="25.83" y1="484.85" x2="25.14" y2="485.25" stroke="#777" stroke-width="0.5"/><line x1="25.2" y1="482.5" x2="24.4" y2="482.5" stroke="#777" stroke-width="0.5"/><line x1="25.83" y1="480.15" x2="25.14" y2="479.75" stroke="#777" stroke-width="0.5"/><line x1="27.55" y1="478.43" x2="27.15" y2="477.74" stroke="#777" stroke-width="0.5"/><line x1="29.9" y1="482.5" x2="29.9" y2="478.09" stroke="#bbb" stroke-width="0.6"/><line x1="29.9" y1="482.5" x2="29.9" y2="483.44" stroke="#bbb" stroke-width="0.6"/><rect x="23.4" y="489.2" width="55.6" height="7.6" fill="#fff"/><rect x="23.4" y="489.4" width="16.6" height="4.8" fill="#ff9a2e"/><text x="31.7" y="493.3" font-size="3.2" fill="#4a2a00" text-anchor="middle" font-weight="bold">日射取得</text><rect x="23.4" y="494.2" width="16.6" height="2.6" fill="#30c0f2"/><text x="31.7" y="496.7" font-size="2.6" fill="#035" text-anchor="middle" font-weight="bold">冷房負荷</text><line x1="40" y1="494.2" x2="79" y2="494.2" stroke="#e4e4e4" stroke-width="0.3"/><text x="54" y="493" font-size="3" fill="#444" text-anchor="middle">0Wh</text><text x="54" y="496.6" font-size="2.6" fill="#666" text-anchor="middle">1,800Wh</text><polygon points="126.25,351.89 201.53,352.08 283.28,380.3 283.28,382.55 290.5,386.11 289.38,443.86 287.03,448.93 271.38,453.05 202.84,438.89 138.44,448.74 99.34,437.02 98.78,392.96 126.25,391.55" fill="#ff4e17"/><polygon points="98.78,392.96 138.44,398.49 138.44,448.74 99.34,437.02" fill="#ff4413"/><polygon points="111.06,397.46 138.44,401.96 138.44,440.39 111.06,434.11" fill="#ff5719"/><polygon points="138.44,398.49 160.66,398.21 173.88,398.21 173.88,443.21 138.44,448.74" fill="#ff5819"/><polygon points="202.84,367.46 238.38,378.52 238.38,439.83 202.84,432.8" fill="#ff4a15"/><polygon points="173.88,398.21 202.84,395.39 202.84,432.8 173.88,436.27" fill="#ff5218"/><polygon points="189.81,398.21 200.59,396.8 200.59,430.08 189.81,431.49" fill="#ff4a15"/><polygon points="126.25,351.89 132.91,360.05 132.91,391.93 126.25,391.55" fill="#ff2c0a"/><polygon points="126.25,351.89 201.53,352.08 220.75,359.77 132.91,360.05" fill="#ff3a10"/><polygon points="213.16,359.77 220.75,359.77 227.59,362.96 227.59,366.71 213.16,366.71" fill="#ff2c0a"/><polygon points="238.38,378.71 250.56,378.71 251.69,379.46 273.91,380.96 272.78,395.02 238.38,397.17" fill="#ff260c"/><polygon points="227.59,362.86 238.38,366.61 238.38,378.33 230.59,378.33 230.59,366.33 227.59,366.33" fill="#ff300c"/><polygon points="239.22,366.89 250.56,371.02 250.56,378.89 239.22,378.89" fill="#ff300c"/><polygon points="250.56,371.02 273.91,379.08 273.91,380.77 251.69,379.64 250.56,378.89" fill="#ff5519"/><polygon points="273.91,379.08 283.28,380.3 283.28,382.55 290.5,386.11 289.56,404.39 272.78,401.68 272.78,395.02 273.91,380.77" fill="#ff1306"/><polygon points="238.38,397.17 272.78,395.02 272.78,399.05 238.38,401.86" fill="#ff6e20"/><polygon points="238.38,401.86 272.78,399.05 272.78,401.68 289.56,404.39 289.38,443.86 271.56,446.3 238.38,439.83" fill="#ff0a04"/><polygon points="238.38,401.86 252.62,400.74 252.62,442.55 238.38,439.83" fill="#ff4c16"/><polygon points="98.78,392.96 116.97,392.21 138.44,398.49 160.66,398.11 160.66,400.83 138.44,401.11 98.78,396.99" fill="#ff561a"/><polygon points="116.97,392.21 143.59,392.96 160.66,398.11 138.44,398.49" fill="#d6d6d6"/><polygon points="99.25,431.39 138.44,440.3 202.84,432.8 271.56,446.3 289.38,443.86 287.03,448.93 271.38,453.05 202.84,438.89 138.44,448.74 99.34,437.02" fill="#ff8622"/><polygon points="156.16,389.49 162.34,389.49 162.34,392.86 156.16,392.86" fill="#e8e8e8" stroke="#999" stroke-width="0.3"/><line x1="132.91" y1="360.05" x2="220.75" y2="359.77" stroke="#f0c4b4" stroke-width="0.45" stroke-opacity="0.42"/><line x1="132.91" y1="360.05" x2="132.91" y2="391.93" stroke="#f0c4b4" stroke-width="0.45" stroke-opacity="0.42"/><line x1="138.44" y1="398.49" x2="138.44" y2="448.74" stroke="#f0c4b4" stroke-width="0.45" stroke-opacity="0.42"/><line x1="202.84" y1="359.77" x2="202.84" y2="438.89" stroke="#f0c4b4" stroke-width="0.45" stroke-opacity="0.42"/><line x1="144.81" y1="360.05" x2="144.81" y2="392.96" stroke="#f0c4b4" stroke-width="0.45" stroke-opacity="0.42"/><line x1="144.81" y1="368.02" x2="213.16" y2="367.46" stroke="#f0c4b4" stroke-width="0.45" stroke-opacity="0.42"/><line x1="158.41" y1="360.05" x2="158.41" y2="397.27" stroke="#f0c4b4" stroke-width="0.45" stroke-opacity="0.42"/><line x1="158.41" y1="380.86" x2="188.41" y2="380.39" stroke="#f0c4b4" stroke-width="0.45" stroke-opacity="0.42"/><line x1="188.41" y1="367.74" x2="188.41" y2="397.74" stroke="#f0c4b4" stroke-width="0.45" stroke-opacity="0.42"/><line x1="171.16" y1="359.96" x2="171.16" y2="367.83" stroke="#f0c4b4" stroke-width="0.45" stroke-opacity="0.42"/><line x1="182.12" y1="359.96" x2="182.12" y2="367.83" stroke="#f0c4b4" stroke-width="0.45" stroke-opacity="0.42"/><line x1="195.34" y1="359.86" x2="195.34" y2="367.64" stroke="#f0c4b4" stroke-width="0.45" stroke-opacity="0.42"/><line x1="200.22" y1="359.86" x2="200.22" y2="367.64" stroke="#f0c4b4" stroke-width="0.45" stroke-opacity="0.42"/><line x1="213.16" y1="359.77" x2="213.16" y2="434.3" stroke="#f0c4b4" stroke-width="0.45" stroke-opacity="0.42"/><line x1="220.94" y1="359.77" x2="220.94" y2="366.71" stroke="#f0c4b4" stroke-width="0.45" stroke-opacity="0.42"/><line x1="144.81" y1="381.33" x2="158.41" y2="381.33" stroke="#f0c4b4" stroke-width="0.45" stroke-opacity="0.42"/><line x1="173.88" y1="398.21" x2="173.88" y2="443.21" stroke="#f0c4b4" stroke-width="0.45" stroke-opacity="0.42"/><line x1="173.88" y1="398.21" x2="202.84" y2="395.39" stroke="#f0c4b4" stroke-width="0.45" stroke-opacity="0.42"/><line x1="188.41" y1="391.64" x2="202.84" y2="390.71" stroke="#f0c4b4" stroke-width="0.45" stroke-opacity="0.42"/><line x1="173.88" y1="425.39" x2="202.84" y2="421.64" stroke="#f0c4b4" stroke-width="0.45" stroke-opacity="0.42"/><line x1="179.97" y1="398.21" x2="179.97" y2="425.39" stroke="#f0c4b4" stroke-width="0.45" stroke-opacity="0.42"/><line x1="111.06" y1="397.46" x2="111.06" y2="434.11" stroke="#f0c4b4" stroke-width="0.45" stroke-opacity="0.42"/><line x1="111.06" y1="397.46" x2="138.44" y2="401.96" stroke="#f0c4b4" stroke-width="0.45" stroke-opacity="0.42"/><line x1="127.47" y1="401.49" x2="127.47" y2="418.83" stroke="#f0c4b4" stroke-width="0.45" stroke-opacity="0.42"/><line x1="127.47" y1="418.83" x2="138.44" y2="421.18" stroke="#f0c4b4" stroke-width="0.45" stroke-opacity="0.42"/><line x1="144.34" y1="401.96" x2="144.34" y2="429.14" stroke="#f0c4b4" stroke-width="0.45" stroke-opacity="0.42"/><line x1="151.28" y1="402.89" x2="151.28" y2="428.21" stroke="#f0c4b4" stroke-width="0.45" stroke-opacity="0.42"/><line x1="144.34" y1="402.89" x2="165.91" y2="402.43" stroke="#f0c4b4" stroke-width="0.45" stroke-opacity="0.42"/><line x1="165.91" y1="402.43" x2="165.91" y2="427.27" stroke="#f0c4b4" stroke-width="0.45" stroke-opacity="0.42"/><line x1="99.25" y1="431.39" x2="138.44" y2="440.3" stroke="#f0c4b4" stroke-width="0.45" stroke-opacity="0.42"/><line x1="138.44" y1="440.3" x2="202.84" y2="432.8" stroke="#f0c4b4" stroke-width="0.45" stroke-opacity="0.42"/><line x1="202.84" y1="432.8" x2="271.56" y2="446.3" stroke="#f0c4b4" stroke-width="0.45" stroke-opacity="0.42"/><line x1="271.56" y1="446.3" x2="289.38" y2="443.86" stroke="#f0c4b4" stroke-width="0.45" stroke-opacity="0.42"/><line x1="99.34" y1="426.33" x2="111.06" y2="429.14" stroke="#f0c4b4" stroke-width="0.45" stroke-opacity="0.42"/><line x1="111.06" y1="434.11" x2="138.44" y2="440.39" stroke="#f0c4b4" stroke-width="0.45" stroke-opacity="0.42"/><line x1="138.44" y1="430.08" x2="173.88" y2="425.39" stroke="#f0c4b4" stroke-width="0.45" stroke-opacity="0.42"/><line x1="202.84" y1="381.33" x2="238.38" y2="380.39" stroke="#f0c4b4" stroke-width="0.45" stroke-opacity="0.42"/><line x1="213.16" y1="367.27" x2="238.38" y2="378.52" stroke="#f0c4b4" stroke-width="0.45" stroke-opacity="0.42"/><line x1="202.84" y1="395.39" x2="238.38" y2="397.17" stroke="#f0c4b4" stroke-width="0.45" stroke-opacity="0.42"/><line x1="226.84" y1="378.52" x2="226.84" y2="437.58" stroke="#f0c4b4" stroke-width="0.45" stroke-opacity="0.42"/><line x1="233.41" y1="397.27" x2="233.41" y2="438.8" stroke="#f0c4b4" stroke-width="0.45" stroke-opacity="0.42"/><line x1="219.81" y1="381.33" x2="219.81" y2="435.71" stroke="#f0c4b4" stroke-width="0.45" stroke-opacity="0.42"/><line x1="202.84" y1="421.64" x2="226.84" y2="426.33" stroke="#f0c4b4" stroke-width="0.45" stroke-opacity="0.42"/><line x1="238.38" y1="379.08" x2="273.72" y2="391.64" stroke="#f0c4b4" stroke-width="0.45" stroke-opacity="0.42"/><line x1="252.62" y1="400.74" x2="252.62" y2="442.55" stroke="#f0c4b4" stroke-width="0.45" stroke-opacity="0.42"/><line x1="259.19" y1="401.02" x2="259.19" y2="443.77" stroke="#f0c4b4" stroke-width="0.45" stroke-opacity="0.42"/><line x1="265.75" y1="401.21" x2="265.75" y2="445.08" stroke="#f0c4b4" stroke-width="0.45" stroke-opacity="0.42"/><line x1="272.78" y1="380.77" x2="272.78" y2="446.02" stroke="#f0c4b4" stroke-width="0.45" stroke-opacity="0.42"/><line x1="278.88" y1="402.89" x2="278.88" y2="445.27" stroke="#f0c4b4" stroke-width="0.45" stroke-opacity="0.42"/><line x1="252.62" y1="412.27" x2="272.78" y2="413.68" stroke="#f0c4b4" stroke-width="0.45" stroke-opacity="0.42"/><line x1="283.28" y1="380.3" x2="283.28" y2="386.02" stroke="#f0c4b4" stroke-width="0.45" stroke-opacity="0.42"/><line x1="272.78" y1="390.24" x2="290.22" y2="391.18" stroke="#f0c4b4" stroke-width="0.45" stroke-opacity="0.42"/><line x1="250.56" y1="371.02" x2="250.56" y2="378.89" stroke="#f0c4b4" stroke-width="0.45" stroke-opacity="0.42"/><line x1="250.56" y1="371.02" x2="273.91" y2="380.77" stroke="#f0c4b4" stroke-width="0.45" stroke-opacity="0.42"/><line x1="238.75" y1="366.71" x2="238.75" y2="439.83" stroke="#f0583a" stroke-width="0.9"/></svg></div>
</body>
</html>
